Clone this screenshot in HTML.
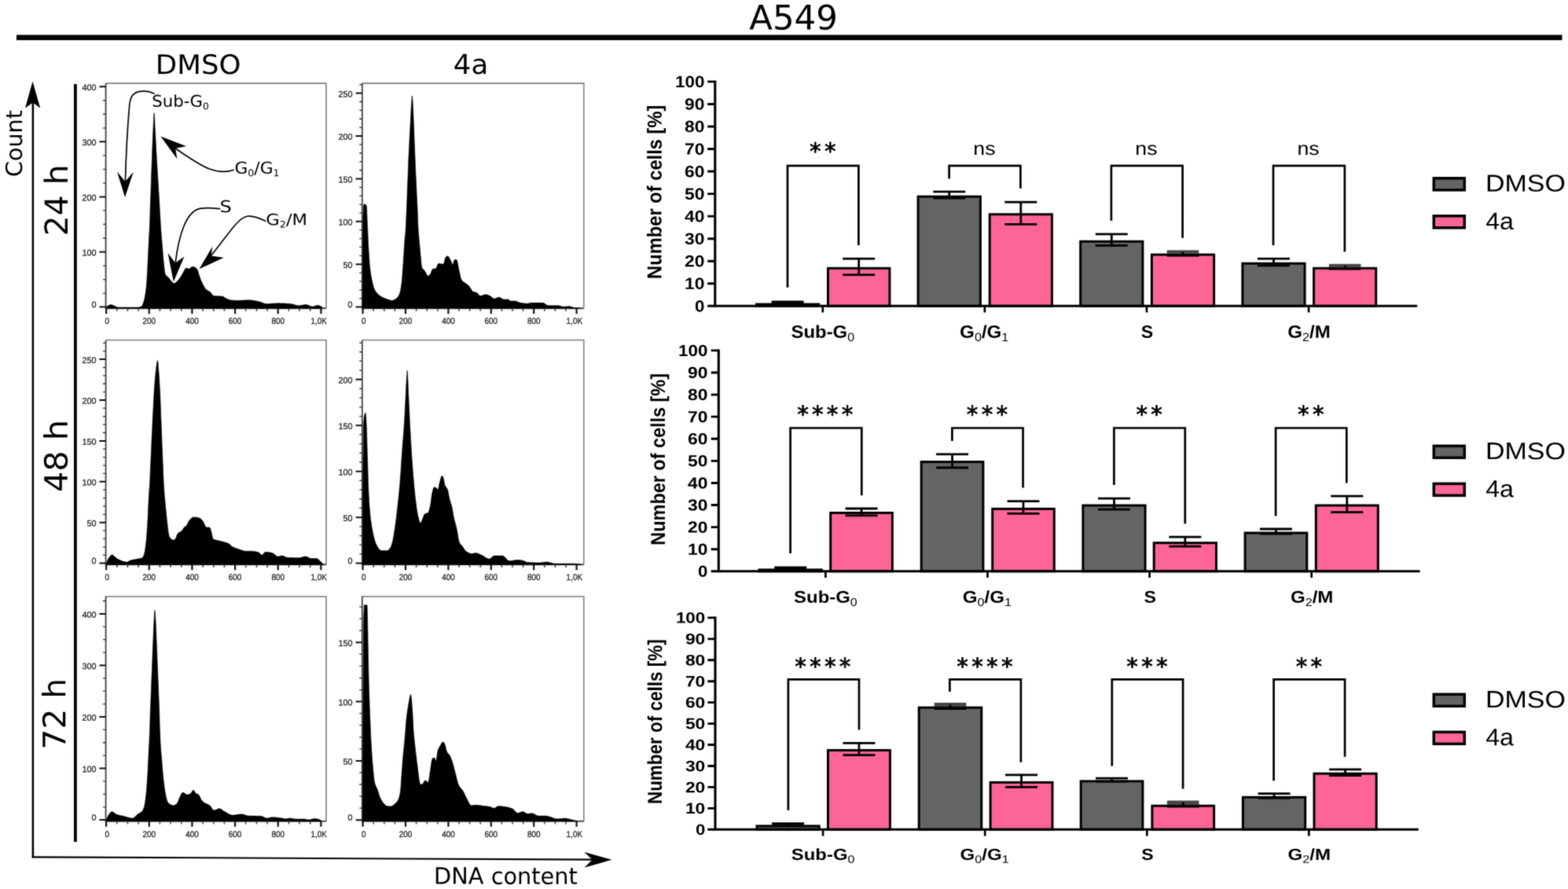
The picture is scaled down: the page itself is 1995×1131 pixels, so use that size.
<!DOCTYPE html>
<html lang="en">
<head>
<meta charset="utf-8">
<title>A549 cell cycle</title>
<style>
html,body{margin:0;padding:0;background:#fff;}
body{width:1995px;height:1131px;overflow:hidden;}
svg{display:block;}
text{font-kerning:none;white-space:pre;text-rendering:geometricPrecision;}
</style>
</head>
<body>
<svg width="1995" height="1131" viewBox="0 0 1995 1131">
<defs><filter id="soft" x="0" y="0" width="1995" height="1131" filterUnits="userSpaceOnUse" color-interpolation-filters="sRGB"><feConvolveMatrix order="3" kernelMatrix="1 4 1 4 16 4 1 4 1" divisor="36" edgeMode="duplicate" preserveAlpha="false"/></filter></defs>
<g filter="url(#soft)">
<rect width="1995" height="1131" fill="#fff"/>
<text transform="translate(953.16 37.39) rotate(0.03) scale(1.0053 1)" font-family="'DejaVu Sans','Liberation Sans',sans-serif" font-weight="normal" font-size="43.23" fill="#000">A549</text>
<rect x="21" y="44.4" width="1966.5" height="6.7" fill="#000"/>
<text transform="translate(197.81 93.92) rotate(0.03) scale(1.0431 1)" font-family="'DejaVu Sans','Liberation Sans',sans-serif" font-weight="normal" font-size="34.11" fill="#000">DMSO</text>
<text transform="translate(576.76 93.91) rotate(0.03) scale(1.0256 1)" font-family="'DejaVu Sans','Liberation Sans',sans-serif" font-weight="normal" font-size="34.72" fill="#000">4a</text>
<path d="M41.9 125 V1091.3" fill="none" stroke="#000" stroke-width="2.5"/>
<path d="M40.7 1090.3 L755 1093.6" fill="none" stroke="#000" stroke-width="2.15"/>
<path d="M41.5 103.5 L51.2 137.5 L41.8 130.5 L32 137.5 Z" fill="#000"/>
<path d="M778.5 1093.7 L743.5 1103.8 L753.5 1093.7 L743.5 1084 Z" fill="#000"/>
<text transform="translate(28.00 225.01) rotate(-89.97) scale(1 0.9979)" font-family="'DejaVu Sans','Liberation Sans',sans-serif" font-weight="normal" font-size="28.62" fill="#000">Count</text>
<text transform="translate(552.07 1124.59) rotate(0.03) scale(0.9913 1)" font-family="'DejaVu Sans','Liberation Sans',sans-serif" font-weight="normal" font-size="29.06" fill="#000">DNA content</text>
<rect x="94" y="107" width="3.8" height="964" fill="#000"/>
<text transform="translate(86.00 300.30) rotate(-89.97) scale(1 0.9835)" font-family="'DejaVu Sans','Liberation Sans',sans-serif" font-weight="normal" font-size="40.95" fill="#000">24 h</text>
<text transform="translate(85.73 626.12) rotate(-89.97) scale(1 0.9762)" font-family="'DejaVu Sans','Liberation Sans',sans-serif" font-weight="normal" font-size="41.43" fill="#000">48 h</text>
<text transform="translate(83.20 953.43) rotate(-89.97) scale(1 0.9781)" font-family="'DejaVu Sans','Liberation Sans',sans-serif" font-weight="normal" font-size="40.64" fill="#000">72 h</text>
<path d="M134.60 106.00 L415.00 106.00 L415.00 392.30" fill="none" stroke="#8c8c8c" stroke-width="1.8"/>
<path d="M134.60 106.00 L134.60 392.30 L415.00 392.30" fill="none" stroke="#4a4a4a" stroke-width="1.9"/>
<path d="M135.1 392.3 L135.1 391.0 L135.8 390.2 L136.6 389.6 L137.3 389.1 L137.8 388.8 L138.1 388.7 L138.8 388.3 L139.6 388.0 L140.3 387.7 L141.1 387.6 L141.3 387.6 L141.8 387.7 L142.6 387.9 L143.3 388.2 L144.1 388.5 L144.8 388.8 L144.8 388.9 L145.6 389.2 L146.3 389.5 L147.1 389.9 L147.8 390.3 L148.6 390.6 L149.3 390.9 L150.1 391.0 L150.1 391.0 L150.8 391.0 L151.6 391.0 L152.3 391.0 L153.1 391.0 L153.8 391.0 L154.6 391.0 L155.3 391.0 L156.1 391.1 L156.8 391.1 L157.6 391.1 L158.3 391.1 L159.1 391.1 L159.8 391.1 L160.6 391.1 L161.3 391.1 L162.1 391.1 L162.8 391.1 L163.6 391.1 L164.3 391.1 L165.1 391.1 L165.8 391.1 L166.6 391.1 L167.3 391.1 L168.1 391.1 L168.8 391.1 L169.6 391.1 L170.3 391.1 L171.1 391.1 L171.8 391.1 L172.6 391.1 L173.3 391.1 L174.1 391.1 L174.8 391.1 L174.9 391.1 L175.6 391.1 L176.3 391.0 L177.1 390.9 L177.8 390.7 L178.6 390.4 L179.3 390.1 L180.1 389.8 L180.2 389.7 L180.8 389.1 L181.6 387.6 L182.3 385.6 L183.1 383.2 L183.7 380.9 L183.8 380.5 L184.6 376.9 L185.3 372.1 L186.1 365.9 L186.4 363.2 L186.8 357.4 L187.6 344.2 L188.3 329.6 L188.3 329.4 L189.1 312.8 L189.6 303.1 L189.8 299.1 L190.1 295.0 L190.6 283.4 L191.3 260.5 L191.7 250.1 L192.1 238.9 L192.8 217.9 L193.5 201.1 L193.6 197.7 L194.3 178.0 L194.9 165.8 L195.1 160.8 L195.8 145.5 L196.1 143.8 L196.6 149.1 L197.3 165.6 L197.4 165.8 L198.1 179.3 L198.8 193.2 L199.3 201.1 L199.6 206.2 L200.3 218.6 L201.1 230.6 L201.8 242.6 L202.3 250.1 L202.6 255.0 L203.3 268.4 L204.1 281.7 L204.8 293.5 L205.0 295.0 L205.6 303.0 L206.3 311.5 L206.4 311.9 L207.1 321.0 L207.8 330.1 L208.2 333.1 L208.6 337.4 L209.3 344.2 L210.1 348.6 L210.3 349.0 L210.8 350.0 L211.6 350.8 L212.3 351.4 L213.1 352.0 L213.8 352.6 L213.8 352.6 L214.6 353.4 L215.3 354.4 L216.1 355.3 L216.8 356.3 L217.6 357.3 L218.3 358.2 L219.1 359.1 L219.8 359.7 L220.6 360.2 L221.3 360.5 L221.8 360.5 L222.1 360.5 L222.8 360.1 L223.6 359.5 L224.3 358.8 L224.4 358.8 L225.1 358.2 L225.8 357.4 L226.6 356.6 L227.3 355.7 L228.1 354.8 L228.8 353.8 L229.6 352.8 L229.7 352.6 L230.3 351.6 L231.1 350.3 L231.8 348.9 L232.6 347.5 L233.3 346.4 L233.3 346.2 L234.1 344.9 L234.8 343.4 L235.6 342.1 L236.3 341.2 L236.8 341.1 L237.1 341.1 L237.8 341.3 L238.6 341.5 L239.3 341.8 L240.1 342.0 L240.3 342.0 L240.8 341.9 L241.6 341.4 L242.3 340.8 L243.1 340.2 L243.8 339.6 L244.6 339.3 L244.8 339.3 L245.3 339.4 L246.1 339.5 L246.8 339.7 L247.6 339.9 L248.3 340.2 L248.3 340.2 L249.1 340.7 L249.8 341.4 L250.6 342.3 L250.9 342.9 L251.3 343.6 L252.1 345.8 L252.8 348.4 L253.6 350.8 L254.3 352.9 L255.1 355.1 L255.8 357.0 L256.2 357.9 L256.6 358.6 L257.4 360.2 L258.1 361.8 L258.9 363.3 L259.6 364.6 L260.4 365.9 L261.1 367.0 L261.9 367.9 L262.4 368.5 L262.6 368.6 L263.4 369.2 L264.1 369.6 L264.9 370.0 L265.6 370.4 L266.4 370.8 L266.9 371.1 L267.1 371.3 L267.9 372.1 L268.6 373.0 L269.4 374.0 L270.1 374.9 L270.9 375.7 L271.6 376.3 L272.2 376.5 L272.4 376.5 L273.1 376.6 L273.9 376.6 L274.6 376.6 L275.4 376.7 L276.1 376.7 L276.9 376.7 L277.6 376.7 L278.4 376.8 L279.1 376.8 L279.9 376.8 L280.6 376.8 L281.4 376.9 L282.1 376.9 L282.8 377.0 L282.9 377.0 L283.6 377.2 L284.4 377.6 L285.1 378.1 L285.9 378.6 L286.6 379.1 L287.4 379.6 L288.1 380.0 L288.1 380.0 L288.9 380.3 L289.6 380.6 L290.4 380.9 L291.1 381.2 L291.9 381.5 L292.6 381.6 L293.4 381.8 L293.4 381.8 L294.1 381.8 L294.9 381.9 L295.6 382.0 L296.4 382.1 L297.1 382.1 L297.9 382.2 L298.6 382.2 L299.4 382.2 L300.1 382.3 L300.9 382.3 L301.6 382.3 L302.2 382.3 L302.4 382.3 L303.1 382.3 L303.9 382.3 L304.6 382.3 L305.4 382.2 L306.1 382.2 L306.9 382.2 L307.6 382.1 L308.4 382.1 L309.1 382.1 L309.9 382.0 L310.6 382.0 L311.4 381.9 L312.1 381.9 L312.9 381.9 L313.6 381.8 L314.4 381.8 L315.1 381.8 L315.9 381.8 L316.4 381.8 L316.6 381.8 L317.4 381.8 L318.1 381.8 L318.9 381.9 L319.6 381.9 L320.4 382.0 L321.1 382.1 L321.9 382.2 L322.6 382.4 L323.4 382.5 L324.1 382.6 L324.9 382.8 L325.6 382.9 L326.4 383.1 L327.1 383.2 L327.9 383.4 L328.6 383.5 L328.8 383.5 L329.4 383.7 L330.1 383.9 L330.9 384.1 L331.6 384.4 L332.4 384.6 L333.1 384.9 L333.9 385.2 L334.6 385.5 L335.4 385.8 L336.1 386.0 L336.9 386.2 L337.6 386.4 L338.4 386.5 L339.1 386.5 L339.4 386.5 L339.9 386.5 L340.6 386.5 L341.4 386.5 L342.1 386.5 L342.9 386.4 L343.6 386.4 L344.4 386.3 L345.1 386.3 L345.9 386.2 L346.6 386.2 L347.4 386.1 L348.1 386.1 L348.9 386.0 L349.6 386.0 L350.4 385.9 L351.1 385.9 L351.9 385.9 L352.6 385.8 L353.4 385.8 L353.5 385.8 L354.1 385.8 L354.9 385.8 L355.6 385.8 L356.4 385.9 L357.1 385.9 L357.9 385.9 L358.6 385.9 L359.4 385.9 L360.1 386.0 L360.9 386.0 L361.6 386.0 L362.4 386.1 L363.1 386.1 L363.9 386.2 L364.6 386.2 L365.4 386.2 L366.1 386.3 L366.9 386.4 L367.6 386.4 L368.4 386.5 L369.1 386.5 L369.4 386.5 L369.9 386.6 L370.6 386.7 L371.4 386.8 L372.1 387.0 L372.9 387.2 L373.6 387.4 L374.4 387.7 L375.1 387.9 L375.9 388.1 L376.6 388.3 L377.4 388.5 L378.1 388.7 L378.9 388.8 L379.6 388.8 L380.1 388.8 L380.4 388.8 L381.1 388.8 L381.9 388.7 L382.6 388.6 L383.4 388.4 L384.1 388.3 L384.9 388.1 L385.6 388.0 L386.4 387.9 L387.1 387.7 L387.9 387.6 L388.6 387.6 L388.9 387.6 L389.4 387.6 L390.1 387.7 L390.9 387.9 L391.6 388.1 L392.4 388.4 L393.1 388.8 L393.9 389.1 L394.6 389.4 L395.4 389.6 L396.1 389.9 L396.9 390.0 L397.6 390.1 L397.8 390.1 L398.4 390.0 L399.1 389.9 L399.9 389.7 L400.6 389.4 L401.4 389.1 L402.1 388.8 L402.9 388.6 L403.6 388.5 L403.9 388.5 L404.4 388.5 L405.1 388.6 L405.9 388.8 L406.6 389.0 L407.4 389.3 L408.1 389.7 L408.9 390.1 L409.6 390.6 L410.1 391.0 L410.1 392.3 Z" fill="#000" stroke="#000" stroke-width="0.6" stroke-linejoin="round"/>
<path d="M135.10 392.30 v7 M189.76 392.30 v7 M244.42 392.30 v7 M299.08 392.30 v7 M353.74 392.30 v7 M408.40 392.30 v7" stroke="#1a1a1a" stroke-width="2.3" fill="none"/>
<path d="M148.76 392.30 v3.8 M162.43 392.30 v3.8 M176.09 392.30 v3.8 M203.42 392.30 v3.8 M217.09 392.30 v3.8 M230.75 392.30 v3.8 M258.08 392.30 v3.8 M271.75 392.30 v3.8 M285.41 392.30 v3.8 M312.74 392.30 v3.8 M326.41 392.30 v3.8 M340.07 392.30 v3.8 M367.40 392.30 v3.8 M381.07 392.30 v3.8 M394.73 392.30 v3.8" stroke="#333" stroke-width="1.4" fill="none"/>
<path d="M134.60 390.60 h-8.2 M134.60 320.50 h-8.2 M134.60 250.40 h-8.2 M134.60 180.30 h-8.2 M134.60 110.20 h-8.2" stroke="#111" stroke-width="2" fill="none"/>
<path d="M134.60 373.08 h-3.6 M134.60 355.55 h-3.6 M134.60 338.03 h-3.6 M134.60 302.98 h-3.6 M134.60 285.45 h-3.6 M134.60 267.93 h-3.6 M134.60 232.88 h-3.6 M134.60 215.35 h-3.6 M134.60 197.83 h-3.6 M134.60 162.78 h-3.6 M134.60 145.25 h-3.6 M134.60 127.73 h-3.6" stroke="#333" stroke-width="1.3" fill="none"/>
<g fill="#111" opacity="0.9" font-family="'Liberation Sans',sans-serif" font-size="11" stroke="#111" stroke-width="0.35"><text transform="translate(136.30 412.30) rotate(0.03) scale(0.9 1)" text-anchor="middle">0</text><text transform="translate(189.76 412.30) rotate(0.03) scale(0.9 1)" text-anchor="middle">200</text><text transform="translate(244.42 412.30) rotate(0.03) scale(0.9 1)" text-anchor="middle">400</text><text transform="translate(299.08 412.30) rotate(0.03) scale(0.9 1)" text-anchor="middle">600</text><text transform="translate(353.74 412.30) rotate(0.03) scale(0.9 1)" text-anchor="middle">800</text><text transform="translate(405.60 412.30) rotate(0.03) scale(0.9 1)" text-anchor="middle">1,0K</text><text transform="translate(122.40 391.20) rotate(0.03) scale(0.98 1)" text-anchor="end">0</text><text transform="translate(122.40 325.30) rotate(0.03) scale(0.98 1)" text-anchor="end">100</text><text transform="translate(122.40 255.20) rotate(0.03) scale(0.98 1)" text-anchor="end">200</text><text transform="translate(122.40 185.10) rotate(0.03) scale(0.98 1)" text-anchor="end">300</text><text transform="translate(122.40 115.00) rotate(0.03) scale(0.98 1)" text-anchor="end">400</text></g>
<path d="M460.80 106.00 L742.80 106.00 L742.80 392.30" fill="none" stroke="#8c8c8c" stroke-width="1.8"/>
<path d="M460.80 106.00 L460.80 392.30 L742.80 392.30" fill="none" stroke="#4a4a4a" stroke-width="1.9"/>
<path d="M461.2 392.3 L461.2 391.0 L461.7 285.4 L462.0 275.0 L462.6 260.6 L462.7 260.5 L463.5 259.9 L464.2 259.7 L464.2 259.7 L465.0 260.0 L465.7 261.0 L466.3 262.4 L466.5 263.2 L467.2 280.7 L467.4 285.4 L468.0 297.9 L468.6 311.9 L468.7 313.1 L469.5 326.0 L470.2 336.4 L470.4 338.4 L471.0 343.2 L471.7 348.7 L472.5 353.1 L473.1 356.1 L473.2 356.8 L474.0 360.1 L474.7 363.1 L475.5 365.7 L476.2 367.7 L476.6 368.5 L477.0 369.1 L477.7 370.4 L478.5 371.4 L479.2 372.4 L480.0 373.3 L480.7 374.1 L481.5 374.8 L482.2 375.4 L483.0 375.9 L483.7 376.5 L483.7 376.5 L484.5 377.0 L485.2 377.4 L486.0 377.9 L486.7 378.3 L487.5 378.6 L488.2 379.0 L489.0 379.3 L489.7 379.6 L490.5 379.9 L490.8 380.0 L491.2 380.2 L492.0 380.5 L492.7 380.8 L493.5 381.1 L494.2 381.3 L495.0 381.6 L495.7 381.8 L496.5 382.0 L497.2 382.2 L498.0 382.3 L498.7 382.3 L499.5 382.2 L500.2 382.1 L501.0 381.8 L501.7 381.4 L502.5 380.9 L503.2 380.4 L504.0 379.9 L504.7 379.3 L504.9 379.1 L505.5 378.6 L506.2 377.8 L507.0 376.7 L507.7 375.4 L508.4 373.8 L508.5 373.7 L509.2 371.2 L510.0 367.3 L510.7 362.5 L511.1 359.7 L511.5 356.3 L512.2 346.9 L513.0 335.8 L513.4 329.6 L513.7 324.8 L514.5 312.6 L515.1 303.1 L515.2 302.4 L516.0 296.0 L516.0 295.0 L516.7 282.9 L517.5 263.7 L518.2 245.3 L518.2 244.1 L519.0 225.0 L519.7 206.2 L519.9 201.1 L520.5 189.9 L521.2 175.2 L521.7 165.8 L522.0 160.7 L522.7 146.1 L523.1 139.2 L523.5 133.0 L524.2 122.3 L524.4 121.9 L525.0 127.6 L525.6 139.2 L525.7 141.5 L526.5 160.1 L527.0 174.6 L527.2 179.9 L528.0 199.2 L528.7 217.5 L528.8 218.8 L529.5 232.9 L530.2 247.4 L530.5 254.2 L531.0 264.1 L531.7 283.2 L532.3 295.0 L532.5 297.1 L533.2 304.9 L533.5 308.4 L534.0 313.0 L534.7 321.7 L535.0 324.3 L535.5 329.7 L536.2 337.4 L536.7 340.2 L537.0 340.7 L537.7 342.0 L538.5 342.8 L539.2 343.5 L540.0 344.2 L540.3 344.6 L540.7 345.3 L541.5 346.6 L542.2 348.1 L543.0 349.5 L543.7 350.6 L544.5 351.1 L544.7 351.2 L545.2 351.1 L546.0 350.5 L546.7 349.8 L547.3 349.0 L547.5 348.9 L548.2 347.3 L549.0 345.3 L549.7 343.4 L550.5 342.4 L550.5 342.3 L551.2 342.1 L552.0 342.0 L552.7 341.9 L553.5 341.9 L554.2 341.7 L554.4 341.6 L555.0 341.1 L555.7 339.5 L556.5 337.6 L557.2 335.9 L558.0 335.2 L558.7 335.3 L559.5 335.4 L560.2 335.5 L561.0 335.7 L561.7 335.8 L562.5 336.0 L563.2 336.1 L564.0 336.1 L564.1 336.1 L564.7 335.3 L565.5 332.5 L566.2 329.3 L566.8 327.8 L567.0 327.6 L567.7 326.7 L568.5 326.1 L569.2 325.7 L569.5 325.7 L570.0 325.9 L570.7 326.6 L571.5 327.8 L572.2 329.1 L573.0 330.4 L573.0 330.5 L573.7 332.1 L574.5 334.1 L575.2 335.9 L576.0 336.7 L576.0 336.7 L576.7 335.2 L577.5 332.3 L578.2 330.5 L578.3 330.5 L579.0 330.5 L579.7 330.5 L580.5 330.5 L581.0 330.5 L581.2 330.7 L582.0 333.2 L582.7 337.3 L583.5 341.4 L583.6 342.0 L584.2 344.7 L585.0 348.3 L585.7 351.8 L586.5 354.6 L587.1 356.1 L587.2 356.2 L588.0 357.2 L588.7 357.9 L589.5 358.5 L590.2 359.1 L591.0 359.5 L591.7 360.0 L592.4 360.5 L592.5 360.6 L593.2 361.1 L594.0 361.6 L594.7 362.2 L595.5 362.7 L596.0 363.2 L596.2 363.4 L597.0 364.3 L597.7 365.4 L598.5 366.6 L599.2 367.8 L600.0 368.9 L600.7 369.9 L601.5 370.7 L602.2 371.1 L602.2 371.2 L603.0 371.4 L603.7 371.6 L604.5 371.8 L605.2 371.9 L606.0 372.2 L606.6 372.4 L606.7 372.4 L607.5 373.0 L608.2 373.9 L609.0 374.9 L609.7 375.7 L610.5 376.3 L611.0 376.5 L611.2 376.5 L612.0 376.4 L612.7 376.2 L613.5 376.0 L614.2 375.7 L615.0 375.4 L615.7 375.2 L616.5 374.9 L617.2 374.8 L618.0 374.7 L618.1 374.7 L618.7 374.7 L619.5 374.9 L620.2 375.1 L621.0 375.4 L621.7 375.7 L622.5 376.0 L623.2 376.4 L623.4 376.5 L624.0 376.8 L624.7 377.3 L625.5 378.0 L626.2 378.7 L627.0 379.3 L627.7 379.7 L628.5 380.0 L628.7 380.0 L629.2 380.0 L630.0 379.8 L630.7 379.6 L631.5 379.3 L632.2 378.9 L633.0 378.6 L633.7 378.4 L634.5 378.2 L634.9 378.2 L635.2 378.2 L636.0 378.4 L636.7 378.8 L637.5 379.2 L638.2 379.7 L639.0 380.2 L639.7 380.6 L640.5 380.8 L641.1 380.9 L641.2 380.9 L642.0 380.9 L642.7 380.9 L643.5 380.9 L644.2 380.9 L645.0 380.9 L645.7 380.9 L646.4 380.9 L646.5 380.9 L647.2 381.2 L648.0 381.8 L648.7 382.4 L649.5 382.9 L649.9 383.0 L650.2 383.0 L651.0 383.0 L651.7 383.0 L652.5 383.0 L653.2 383.0 L654.0 383.0 L654.7 383.0 L655.2 383.0 L655.5 383.0 L656.2 383.1 L657.0 383.3 L657.7 383.6 L658.5 383.9 L659.2 384.2 L660.0 384.5 L660.7 384.9 L661.5 385.1 L662.2 385.3 L662.3 385.3 L663.0 385.4 L663.7 385.5 L664.5 385.6 L665.2 385.7 L666.0 385.8 L666.7 385.9 L667.5 386.0 L668.2 386.1 L669.0 386.1 L669.7 386.2 L670.5 386.2 L671.1 386.2 L671.2 386.2 L672.0 386.1 L672.7 386.0 L673.5 385.8 L674.2 385.6 L675.0 385.5 L675.7 385.4 L676.5 385.3 L677.2 385.3 L678.0 385.3 L678.7 385.3 L679.5 385.3 L680.2 385.3 L681.0 385.3 L681.7 385.3 L682.5 385.3 L683.2 385.3 L684.0 385.3 L684.7 385.3 L685.5 385.3 L686.2 385.3 L687.0 385.3 L687.7 385.3 L688.5 385.3 L689.2 385.3 L690.0 385.3 L690.6 385.3 L690.7 385.3 L691.5 385.4 L692.2 385.8 L693.0 386.2 L693.7 386.8 L694.5 387.3 L695.2 387.9 L696.0 388.3 L696.7 388.7 L697.5 388.8 L697.7 388.8 L698.2 388.8 L699.0 388.8 L699.7 388.8 L700.5 388.8 L701.2 388.8 L702.0 388.8 L702.7 388.8 L703.5 388.8 L704.2 388.8 L705.0 388.8 L705.7 388.8 L706.5 388.8 L707.2 388.8 L708.0 388.8 L708.7 388.8 L709.5 388.8 L710.1 388.8 L710.2 388.8 L711.0 388.9 L711.7 389.0 L712.5 389.2 L713.2 389.4 L714.0 389.6 L714.7 389.9 L715.5 390.1 L716.2 390.2 L717.0 390.2 L717.1 390.2 L717.7 390.2 L718.5 390.2 L719.2 390.1 L720.0 390.1 L720.7 390.0 L721.5 389.9 L722.2 389.8 L723.0 389.8 L723.7 389.7 L724.2 389.7 L724.5 389.7 L725.2 389.8 L726.0 390.0 L726.7 390.2 L727.5 390.4 L728.2 390.7 L729.0 390.9 L729.7 391.2 L730.5 391.4 L731.2 391.5 L731.3 391.5 L732.0 391.6 L732.7 391.6 L733.5 391.7 L734.2 391.7 L735.0 391.8 L735.7 391.8 L736.5 391.8 L737.2 391.8 L738.0 391.9 L738.4 391.9 L738.4 392.3 Z" fill="#000" stroke="#000" stroke-width="0.6" stroke-linejoin="round"/>
<path d="M461.60 392.30 v7 M516.00 392.30 v7 M570.40 392.30 v7 M624.80 392.30 v7 M679.20 392.30 v7 M733.60 392.30 v7" stroke="#1a1a1a" stroke-width="2.3" fill="none"/>
<path d="M475.20 392.30 v3.8 M488.80 392.30 v3.8 M502.40 392.30 v3.8 M529.60 392.30 v3.8 M543.20 392.30 v3.8 M556.80 392.30 v3.8 M584.00 392.30 v3.8 M597.60 392.30 v3.8 M611.20 392.30 v3.8 M638.40 392.30 v3.8 M652.00 392.30 v3.8 M665.60 392.30 v3.8 M692.80 392.30 v3.8 M706.40 392.30 v3.8 M720.00 392.30 v3.8" stroke="#333" stroke-width="1.4" fill="none"/>
<path d="M460.80 390.60 h-8.2 M460.80 336.20 h-8.2 M460.80 281.80 h-8.2 M460.80 227.40 h-8.2 M460.80 173.00 h-8.2 M460.80 118.60 h-8.2" stroke="#111" stroke-width="2" fill="none"/>
<path d="M460.80 379.72 h-3.6 M460.80 368.84 h-3.6 M460.80 357.96 h-3.6 M460.80 347.08 h-3.6 M460.80 325.32 h-3.6 M460.80 314.44 h-3.6 M460.80 303.56 h-3.6 M460.80 292.68 h-3.6 M460.80 270.92 h-3.6 M460.80 260.04 h-3.6 M460.80 249.16 h-3.6 M460.80 238.28 h-3.6 M460.80 216.52 h-3.6 M460.80 205.64 h-3.6 M460.80 194.76 h-3.6 M460.80 183.88 h-3.6 M460.80 162.12 h-3.6 M460.80 151.24 h-3.6 M460.80 140.36 h-3.6 M460.80 129.48 h-3.6 M460.80 107.72 h-3.6" stroke="#333" stroke-width="1.3" fill="none"/>
<g fill="#111" opacity="0.9" font-family="'Liberation Sans',sans-serif" font-size="11" stroke="#111" stroke-width="0.35"><text transform="translate(462.80 412.30) rotate(0.03) scale(0.9 1)" text-anchor="middle">0</text><text transform="translate(516.00 412.30) rotate(0.03) scale(0.9 1)" text-anchor="middle">200</text><text transform="translate(570.40 412.30) rotate(0.03) scale(0.9 1)" text-anchor="middle">400</text><text transform="translate(624.80 412.30) rotate(0.03) scale(0.9 1)" text-anchor="middle">600</text><text transform="translate(679.20 412.30) rotate(0.03) scale(0.9 1)" text-anchor="middle">800</text><text transform="translate(730.80 412.30) rotate(0.03) scale(0.9 1)" text-anchor="middle">1,0K</text><text transform="translate(448.60 391.20) rotate(0.03) scale(0.98 1)" text-anchor="end">0</text><text transform="translate(448.60 341.00) rotate(0.03) scale(0.98 1)" text-anchor="end">50</text><text transform="translate(448.60 286.60) rotate(0.03) scale(0.98 1)" text-anchor="end">100</text><text transform="translate(448.60 232.20) rotate(0.03) scale(0.98 1)" text-anchor="end">150</text><text transform="translate(448.60 177.80) rotate(0.03) scale(0.98 1)" text-anchor="end">200</text><text transform="translate(448.60 123.40) rotate(0.03) scale(0.98 1)" text-anchor="end">250</text></g>
<path d="M134.60 432.70 L415.00 432.70 L415.00 718.30" fill="none" stroke="#8c8c8c" stroke-width="1.8"/>
<path d="M134.60 432.70 L134.60 718.30 L415.00 718.30" fill="none" stroke="#4a4a4a" stroke-width="1.9"/>
<path d="M135.1 718.3 L135.1 717.1 L135.8 715.2 L136.6 713.5 L137.3 711.9 L138.1 710.5 L138.6 709.7 L138.8 709.4 L139.6 708.4 L140.3 707.4 L141.1 706.6 L141.8 706.0 L142.5 705.8 L142.6 705.8 L143.3 706.0 L144.1 706.6 L144.8 707.2 L145.6 708.0 L146.3 708.6 L146.6 708.8 L147.1 709.2 L147.8 709.8 L148.6 710.3 L149.3 710.9 L150.1 711.4 L150.8 711.8 L151.0 711.9 L151.6 712.1 L152.3 712.4 L153.1 712.8 L153.8 713.1 L154.6 713.4 L155.3 713.7 L156.1 714.0 L156.8 714.2 L157.6 714.4 L158.3 714.6 L159.1 714.8 L159.8 714.9 L160.6 715.0 L161.3 715.0 L161.6 715.0 L162.1 715.0 L162.8 714.7 L163.6 714.3 L164.3 713.8 L165.1 713.3 L165.8 713.0 L166.1 712.9 L166.6 712.8 L167.3 712.6 L168.1 712.4 L168.8 712.2 L169.6 712.1 L170.3 712.0 L171.1 711.8 L171.8 711.7 L172.6 711.6 L173.3 711.4 L174.1 711.3 L174.8 711.1 L174.9 711.1 L175.6 711.0 L176.3 710.9 L177.1 710.8 L177.8 710.6 L178.6 710.5 L179.3 710.3 L180.1 710.1 L180.8 709.8 L181.1 709.7 L181.6 709.3 L182.3 708.1 L183.1 706.3 L183.7 704.4 L183.8 704.0 L184.6 700.3 L185.3 694.7 L186.1 687.8 L186.4 685.0 L186.8 679.5 L187.6 668.1 L188.2 658.4 L188.3 654.8 L189.1 637.6 L189.6 628.4 L189.8 625.0 L190.3 620.0 L190.6 614.8 L191.3 599.0 L192.1 581.1 L192.6 570.3 L192.8 564.6 L193.6 548.6 L194.3 533.0 L194.7 526.1 L195.1 518.3 L195.8 503.8 L196.6 491.4 L196.7 490.8 L197.3 481.9 L198.1 474.0 L198.4 471.3 L198.8 467.8 L199.6 462.0 L200.3 458.7 L200.5 458.6 L201.1 461.9 L201.8 471.6 L202.0 473.1 L202.6 482.3 L203.3 495.6 L203.6 499.6 L204.1 512.4 L204.8 532.2 L205.0 535.0 L205.6 551.1 L206.3 569.9 L206.7 579.2 L207.1 588.4 L207.8 607.1 L208.5 620.0 L208.6 621.6 L209.3 631.1 L210.1 639.0 L210.3 640.8 L210.8 646.8 L211.6 654.2 L212.0 658.4 L212.3 661.4 L213.1 668.6 L213.8 674.4 L213.8 674.6 L214.6 679.8 L215.2 682.3 L215.3 682.5 L216.1 683.7 L216.8 684.7 L217.6 685.5 L218.3 686.2 L219.1 686.6 L219.8 686.9 L220.6 687.1 L220.9 687.1 L221.3 687.0 L222.1 686.5 L222.8 685.8 L223.5 685.0 L223.6 684.9 L224.3 683.3 L225.1 681.1 L225.8 679.3 L226.2 678.8 L226.6 678.4 L227.3 677.8 L228.1 677.3 L228.8 676.9 L229.6 676.5 L230.3 676.1 L231.1 675.6 L231.5 675.2 L231.8 674.8 L232.6 673.6 L233.3 672.3 L234.1 671.2 L234.2 671.2 L234.8 670.5 L235.6 669.9 L236.3 669.4 L237.1 668.8 L237.7 668.2 L237.8 667.9 L238.6 666.5 L239.3 664.7 L240.1 663.2 L240.3 662.9 L240.8 662.2 L241.6 661.4 L242.3 660.5 L243.1 659.8 L243.8 659.1 L244.6 658.5 L245.3 658.1 L246.1 657.9 L246.5 657.9 L246.8 657.9 L247.6 657.9 L248.3 658.0 L249.1 658.1 L249.8 658.2 L250.6 658.3 L251.3 658.4 L252.1 658.6 L252.8 658.8 L253.6 659.0 L254.3 659.3 L255.1 659.8 L255.8 660.4 L256.6 661.2 L257.4 662.1 L258.0 662.9 L258.1 663.0 L258.9 664.2 L259.6 665.9 L260.4 667.7 L261.1 669.3 L261.9 670.4 L262.4 670.8 L262.6 670.8 L263.4 670.9 L264.1 671.0 L264.9 671.0 L265.6 671.0 L266.4 671.1 L266.9 671.2 L267.1 671.4 L267.9 673.3 L268.6 676.0 L268.6 676.1 L269.4 679.0 L270.1 682.5 L270.9 685.1 L271.3 685.9 L271.6 686.0 L272.4 686.4 L273.1 686.6 L273.9 686.9 L274.6 687.0 L275.4 687.2 L276.1 687.3 L276.9 687.5 L277.5 687.6 L277.6 687.6 L278.4 687.9 L279.1 688.0 L279.9 688.2 L280.6 688.4 L281.4 688.6 L282.1 688.8 L282.9 689.0 L283.6 689.2 L284.4 689.4 L285.1 689.6 L285.4 689.7 L285.9 689.9 L286.6 690.1 L287.4 690.3 L288.1 690.6 L288.9 690.8 L289.6 691.1 L290.4 691.4 L291.1 691.8 L291.6 692.0 L291.9 692.2 L292.6 692.8 L293.4 693.6 L294.1 694.4 L294.9 695.0 L295.2 695.2 L295.6 695.5 L296.4 695.9 L297.1 696.2 L297.9 696.6 L298.6 696.9 L299.4 697.2 L300.1 697.5 L300.9 697.7 L301.6 698.0 L302.4 698.2 L303.1 698.5 L303.9 698.7 L304.0 698.8 L304.6 699.0 L305.4 699.2 L306.1 699.5 L306.9 699.8 L307.6 700.1 L308.4 700.3 L309.1 700.6 L309.9 700.8 L310.6 701.0 L311.4 701.1 L312.1 701.2 L312.9 701.2 L313.6 701.2 L314.4 701.2 L315.1 701.2 L315.9 701.2 L316.6 701.2 L317.4 701.2 L318.1 701.2 L318.9 701.2 L319.6 701.2 L319.9 701.2 L320.4 701.2 L321.1 701.3 L321.9 701.3 L322.6 701.4 L323.4 701.5 L324.1 701.6 L324.9 701.7 L325.6 701.9 L326.4 702.0 L327.1 702.2 L327.9 702.4 L328.6 702.6 L328.8 702.6 L329.4 702.9 L330.1 703.6 L330.9 704.4 L331.6 705.2 L332.4 705.9 L333.1 706.2 L333.2 706.2 L333.9 706.0 L334.6 705.2 L335.4 704.3 L336.1 703.4 L336.9 702.6 L337.6 702.3 L337.6 702.3 L338.4 702.3 L339.1 702.3 L339.9 702.4 L340.6 702.5 L341.4 702.6 L342.1 702.7 L342.9 702.8 L343.6 702.9 L344.4 703.1 L345.1 703.2 L345.9 703.4 L346.5 703.5 L346.6 703.6 L347.4 703.9 L348.1 704.4 L348.9 705.0 L349.6 705.6 L350.4 706.3 L351.1 706.9 L351.9 707.4 L352.6 707.8 L353.4 708.0 L353.5 708.0 L354.1 707.9 L354.9 707.8 L355.6 707.7 L356.4 707.5 L357.1 707.3 L357.9 707.1 L358.6 707.1 L358.8 707.1 L359.4 707.1 L360.1 707.2 L360.9 707.5 L361.6 707.8 L362.4 708.2 L363.1 708.5 L363.9 708.9 L364.6 709.1 L365.4 709.3 L365.9 709.4 L366.1 709.4 L366.9 709.4 L367.6 709.5 L368.4 709.5 L369.1 709.5 L369.9 709.5 L370.6 709.6 L371.4 709.6 L372.1 709.6 L372.9 709.6 L373.6 709.6 L374.4 709.7 L375.1 709.7 L375.9 709.7 L376.6 709.7 L377.4 709.7 L378.1 709.7 L378.9 709.7 L379.6 709.7 L380.1 709.7 L380.4 709.7 L381.1 709.6 L381.9 709.5 L382.6 709.4 L383.4 709.2 L384.1 709.0 L384.9 708.7 L385.6 708.5 L386.4 708.3 L387.1 708.1 L387.9 708.0 L388.6 708.0 L388.9 708.0 L389.4 708.0 L390.1 708.2 L390.9 708.5 L391.6 708.8 L392.4 709.2 L393.1 709.6 L393.9 710.0 L394.6 710.4 L395.4 710.5 L396.0 710.6 L396.1 710.6 L396.9 710.6 L397.6 710.6 L398.4 710.6 L399.1 710.6 L399.9 710.6 L400.6 710.6 L401.4 710.6 L402.1 710.6 L402.9 710.6 L403.1 710.6 L403.6 710.7 L404.4 711.1 L405.1 711.7 L405.9 712.4 L406.6 713.2 L407.4 714.1 L408.1 714.8 L408.4 715.0 L408.9 715.4 L409.6 716.0 L410.4 716.6 L411.0 717.1 L411.0 718.3 Z" fill="#000" stroke="#000" stroke-width="0.6" stroke-linejoin="round"/>
<path d="M135.10 718.30 v7 M189.76 718.30 v7 M244.42 718.30 v7 M299.08 718.30 v7 M353.74 718.30 v7 M408.40 718.30 v7" stroke="#1a1a1a" stroke-width="2.3" fill="none"/>
<path d="M148.76 718.30 v3.8 M162.43 718.30 v3.8 M176.09 718.30 v3.8 M203.42 718.30 v3.8 M217.09 718.30 v3.8 M230.75 718.30 v3.8 M258.08 718.30 v3.8 M271.75 718.30 v3.8 M285.41 718.30 v3.8 M312.74 718.30 v3.8 M326.41 718.30 v3.8 M340.07 718.30 v3.8 M367.40 718.30 v3.8 M381.07 718.30 v3.8 M394.73 718.30 v3.8" stroke="#333" stroke-width="1.4" fill="none"/>
<path d="M134.60 716.60 h-8.2 M134.60 664.70 h-8.2 M134.60 612.80 h-8.2 M134.60 560.90 h-8.2 M134.60 509.00 h-8.2 M134.60 457.10 h-8.2" stroke="#111" stroke-width="2" fill="none"/>
<path d="M134.60 706.22 h-3.6 M134.60 695.84 h-3.6 M134.60 685.46 h-3.6 M134.60 675.08 h-3.6 M134.60 654.32 h-3.6 M134.60 643.94 h-3.6 M134.60 633.56 h-3.6 M134.60 623.18 h-3.6 M134.60 602.42 h-3.6 M134.60 592.04 h-3.6 M134.60 581.66 h-3.6 M134.60 571.28 h-3.6 M134.60 550.52 h-3.6 M134.60 540.14 h-3.6 M134.60 529.76 h-3.6 M134.60 519.38 h-3.6 M134.60 498.62 h-3.6 M134.60 488.24 h-3.6 M134.60 477.86 h-3.6 M134.60 467.48 h-3.6 M134.60 446.72 h-3.6 M134.60 436.34 h-3.6" stroke="#333" stroke-width="1.3" fill="none"/>
<g fill="#111" opacity="0.9" font-family="'Liberation Sans',sans-serif" font-size="11" stroke="#111" stroke-width="0.35"><text transform="translate(136.30 738.30) rotate(0.03) scale(0.9 1)" text-anchor="middle">0</text><text transform="translate(189.76 738.30) rotate(0.03) scale(0.9 1)" text-anchor="middle">200</text><text transform="translate(244.42 738.30) rotate(0.03) scale(0.9 1)" text-anchor="middle">400</text><text transform="translate(299.08 738.30) rotate(0.03) scale(0.9 1)" text-anchor="middle">600</text><text transform="translate(353.74 738.30) rotate(0.03) scale(0.9 1)" text-anchor="middle">800</text><text transform="translate(405.60 738.30) rotate(0.03) scale(0.9 1)" text-anchor="middle">1,0K</text><text transform="translate(122.40 717.20) rotate(0.03) scale(0.98 1)" text-anchor="end">0</text><text transform="translate(122.40 669.50) rotate(0.03) scale(0.98 1)" text-anchor="end">50</text><text transform="translate(122.40 617.60) rotate(0.03) scale(0.98 1)" text-anchor="end">100</text><text transform="translate(122.40 565.70) rotate(0.03) scale(0.98 1)" text-anchor="end">150</text><text transform="translate(122.40 513.80) rotate(0.03) scale(0.98 1)" text-anchor="end">200</text><text transform="translate(122.40 461.90) rotate(0.03) scale(0.98 1)" text-anchor="end">250</text></g>
<path d="M460.80 432.70 L742.80 432.70 L742.80 718.30" fill="none" stroke="#8c8c8c" stroke-width="1.8"/>
<path d="M460.80 432.70 L460.80 718.30 L742.80 718.30" fill="none" stroke="#4a4a4a" stroke-width="1.9"/>
<path d="M461.2 718.3 L461.2 717.1 L461.7 620.0 L462.0 589.6 L462.4 543.8 L462.7 537.4 L463.3 529.7 L463.5 529.1 L464.2 526.4 L465.0 525.3 L465.1 525.2 L465.7 531.1 L466.3 543.8 L466.5 546.6 L467.2 572.5 L467.4 579.2 L468.0 598.9 L468.6 620.0 L468.7 621.7 L469.5 636.3 L469.5 637.2 L470.2 646.9 L471.0 655.4 L471.3 658.4 L471.7 661.8 L472.5 667.1 L473.2 671.6 L474.0 675.6 L474.7 679.1 L474.8 679.7 L475.5 682.4 L476.2 685.5 L477.0 688.2 L477.7 690.5 L478.4 692.0 L478.5 692.2 L479.2 693.6 L480.0 694.9 L480.7 696.2 L481.5 697.3 L482.2 698.4 L483.0 699.2 L483.7 699.9 L484.5 700.3 L485.2 700.5 L485.4 700.5 L486.0 700.5 L486.7 700.5 L487.5 700.5 L488.2 700.5 L489.0 700.5 L489.7 700.5 L490.5 700.5 L491.2 700.5 L492.0 700.5 L492.5 700.5 L492.7 700.5 L493.5 700.3 L494.2 699.8 L495.0 699.1 L495.7 698.2 L496.5 697.2 L496.9 696.5 L497.2 696.0 L498.0 694.2 L498.7 691.8 L499.5 689.0 L499.6 688.5 L500.2 685.7 L501.0 681.7 L501.7 677.0 L502.5 672.0 L503.1 667.3 L503.2 666.7 L504.0 661.0 L504.7 654.8 L505.5 648.1 L506.2 641.3 L506.7 637.2 L507.0 634.5 L507.7 627.5 L508.4 620.0 L508.5 619.7 L509.2 610.4 L510.0 599.8 L510.7 588.6 L511.5 577.5 L512.0 570.3 L512.2 567.1 L513.0 557.7 L513.7 548.2 L514.5 537.5 L514.6 535.0 L515.2 523.9 L516.0 507.9 L516.4 499.6 L516.7 493.3 L517.5 478.1 L518.2 471.3 L518.2 471.4 L519.0 484.1 L519.6 499.6 L519.7 502.3 L520.5 518.3 L521.2 534.2 L521.7 543.8 L522.0 548.6 L522.7 562.0 L523.5 574.6 L524.2 586.0 L524.4 588.0 L525.0 596.3 L525.7 605.6 L526.5 614.2 L527.0 620.0 L527.2 622.2 L528.0 629.5 L528.2 631.9 L528.7 635.9 L529.5 642.1 L530.2 647.8 L531.0 652.6 L531.4 654.9 L531.7 656.1 L532.5 659.3 L533.2 662.1 L534.0 664.3 L534.7 665.4 L535.0 665.5 L535.5 665.2 L536.2 663.8 L537.0 661.8 L537.6 660.2 L537.7 660.0 L538.5 658.0 L539.2 655.9 L540.0 654.4 L540.3 654.0 L540.7 653.7 L541.5 653.4 L542.2 653.2 L543.0 653.0 L543.7 652.8 L544.5 652.4 L544.7 652.2 L545.2 651.5 L546.0 649.6 L546.7 646.8 L547.3 644.3 L547.5 643.7 L548.2 639.0 L549.0 633.1 L549.7 628.0 L550.0 626.6 L550.5 624.7 L551.2 621.9 L552.0 620.1 L552.3 619.9 L552.7 619.9 L553.5 620.0 L554.2 620.2 L554.8 620.4 L555.0 620.5 L555.7 621.5 L556.5 622.6 L557.1 623.1 L557.2 623.0 L558.0 620.9 L558.7 617.1 L559.5 613.4 L559.7 612.5 L560.2 610.8 L561.0 608.1 L561.7 606.1 L562.4 605.4 L562.5 605.4 L563.2 606.1 L564.0 607.6 L564.1 608.0 L564.7 610.4 L565.5 615.0 L565.9 616.9 L566.2 617.6 L567.0 619.0 L567.7 620.1 L568.5 621.1 L569.2 622.5 L569.5 623.1 L570.0 624.8 L570.7 628.5 L571.5 632.5 L572.1 635.4 L572.2 635.9 L573.0 638.4 L573.7 640.6 L574.5 643.1 L574.8 644.3 L575.2 646.3 L576.0 650.5 L576.7 654.8 L577.4 658.4 L577.5 658.7 L578.2 661.9 L579.0 664.8 L579.7 667.6 L580.5 670.5 L581.0 672.6 L581.2 673.8 L582.0 678.0 L582.7 682.5 L583.5 686.6 L584.2 689.6 L584.5 690.3 L585.0 691.1 L585.7 692.2 L586.5 693.0 L587.2 693.8 L588.0 694.6 L588.0 694.7 L588.7 695.6 L589.5 696.8 L590.2 698.0 L591.0 699.1 L591.7 700.2 L592.5 701.0 L593.2 701.7 L593.3 701.8 L594.0 702.1 L594.7 702.6 L595.5 703.0 L596.2 703.3 L597.0 703.7 L597.7 703.9 L598.5 704.2 L599.2 704.3 L600.0 704.4 L600.4 704.4 L600.7 704.4 L601.5 704.3 L602.2 704.1 L603.0 703.9 L603.7 703.7 L604.5 703.5 L604.8 703.5 L605.2 703.5 L606.0 703.6 L606.7 703.8 L607.5 704.0 L608.2 704.2 L609.0 704.5 L609.7 704.8 L610.5 705.2 L611.2 705.5 L612.0 705.9 L612.7 706.2 L612.8 706.2 L613.5 706.5 L614.2 706.9 L615.0 707.4 L615.7 707.8 L616.5 708.4 L617.2 708.9 L618.0 709.4 L618.7 709.8 L619.5 710.2 L620.2 710.6 L621.0 710.9 L621.7 711.1 L622.5 711.1 L622.5 711.1 L623.2 711.0 L624.0 710.6 L624.7 710.0 L625.5 709.2 L626.2 708.5 L627.0 707.9 L627.7 707.4 L628.5 707.1 L628.7 707.1 L629.2 707.1 L630.0 707.1 L630.7 707.1 L631.5 707.1 L632.2 707.1 L633.0 707.1 L633.7 707.1 L634.5 707.1 L635.2 707.1 L636.0 707.1 L636.7 707.1 L637.5 707.1 L638.2 707.1 L639.0 707.1 L639.3 707.1 L639.7 707.1 L640.5 707.4 L641.2 707.9 L642.0 708.5 L642.7 709.2 L643.5 710.0 L644.2 710.9 L645.0 711.7 L645.7 712.4 L646.5 713.0 L647.2 713.4 L648.0 713.6 L648.2 713.6 L648.7 713.6 L649.5 713.6 L650.2 713.5 L651.0 713.4 L651.7 713.3 L652.5 713.2 L653.2 713.0 L654.0 712.9 L654.7 712.8 L655.5 712.7 L656.2 712.6 L657.0 712.5 L657.7 712.4 L658.5 712.4 L658.8 712.4 L659.2 712.4 L660.0 712.4 L660.7 712.5 L661.5 712.5 L662.2 712.6 L663.0 712.7 L663.7 712.9 L664.1 712.9 L664.5 713.0 L665.2 713.2 L666.0 713.5 L666.7 713.8 L667.5 714.1 L668.2 714.5 L669.0 714.8 L669.7 715.1 L670.5 715.3 L671.1 715.4 L671.2 715.4 L672.0 715.4 L672.7 715.5 L673.5 715.5 L674.2 715.6 L675.0 715.6 L675.7 715.7 L676.5 715.7 L677.2 715.7 L678.0 715.8 L678.7 715.8 L679.5 715.8 L680.2 715.8 L681.0 715.9 L681.7 715.9 L682.5 715.9 L683.2 715.9 L684.0 715.9 L684.7 715.9 L685.3 715.9 L685.5 715.9 L686.2 715.9 L687.0 715.9 L687.7 715.8 L688.5 715.7 L689.2 715.6 L690.0 715.5 L690.7 715.5 L691.5 715.4 L692.2 715.3 L693.0 715.2 L693.7 715.1 L694.5 715.1 L695.2 715.0 L695.9 715.0 L696.0 715.0 L696.7 715.1 L697.5 715.1 L698.2 715.3 L699.0 715.5 L699.7 715.6 L700.5 715.9 L701.2 716.1 L702.0 716.3 L702.7 716.5 L703.5 716.7 L704.2 716.9 L705.0 717.0 L705.7 717.1 L706.5 717.1 L706.5 717.1 L707.2 717.1 L708.0 717.1 L708.7 717.1 L709.5 717.1 L710.2 717.1 L711.0 717.1 L711.7 717.1 L712.5 717.1 L713.2 717.1 L714.0 717.1 L714.7 717.1 L715.5 717.1 L716.2 717.1 L717.0 717.1 L717.7 717.1 L718.5 717.1 L719.2 717.1 L720.0 717.1 L720.7 717.1 L721.5 717.1 L722.2 717.1 L723.0 717.1 L723.7 717.1 L724.5 717.1 L725.2 717.1 L726.0 717.1 L726.7 717.1 L727.5 717.1 L727.8 717.1 L728.2 717.1 L729.0 717.2 L729.7 717.2 L730.5 717.2 L731.2 717.2 L732.0 717.3 L732.7 717.3 L733.5 717.4 L734.2 717.4 L735.0 717.5 L735.7 717.5 L736.5 717.5 L737.2 717.6 L738.0 717.6 L738.4 717.7 L738.4 718.3 Z" fill="#000" stroke="#000" stroke-width="0.6" stroke-linejoin="round"/>
<path d="M461.60 718.30 v7 M516.00 718.30 v7 M570.40 718.30 v7 M624.80 718.30 v7 M679.20 718.30 v7 M733.60 718.30 v7" stroke="#1a1a1a" stroke-width="2.3" fill="none"/>
<path d="M475.20 718.30 v3.8 M488.80 718.30 v3.8 M502.40 718.30 v3.8 M529.60 718.30 v3.8 M543.20 718.30 v3.8 M556.80 718.30 v3.8 M584.00 718.30 v3.8 M597.60 718.30 v3.8 M611.20 718.30 v3.8 M638.40 718.30 v3.8 M652.00 718.30 v3.8 M665.60 718.30 v3.8 M692.80 718.30 v3.8 M706.40 718.30 v3.8 M720.00 718.30 v3.8" stroke="#333" stroke-width="1.4" fill="none"/>
<path d="M460.80 716.60 h-8.2 M460.80 658.15 h-8.2 M460.80 599.70 h-8.2 M460.80 541.25 h-8.2 M460.80 482.80 h-8.2" stroke="#111" stroke-width="2" fill="none"/>
<path d="M460.80 704.91 h-3.6 M460.80 693.22 h-3.6 M460.80 681.53 h-3.6 M460.80 669.84 h-3.6 M460.80 646.46 h-3.6 M460.80 634.77 h-3.6 M460.80 623.08 h-3.6 M460.80 611.39 h-3.6 M460.80 588.01 h-3.6 M460.80 576.32 h-3.6 M460.80 564.63 h-3.6 M460.80 552.94 h-3.6 M460.80 529.56 h-3.6 M460.80 517.87 h-3.6 M460.80 506.18 h-3.6 M460.80 494.49 h-3.6 M460.80 471.11 h-3.6 M460.80 459.42 h-3.6 M460.80 447.73 h-3.6 M460.80 436.04 h-3.6" stroke="#333" stroke-width="1.3" fill="none"/>
<g fill="#111" opacity="0.9" font-family="'Liberation Sans',sans-serif" font-size="11" stroke="#111" stroke-width="0.35"><text transform="translate(462.80 738.30) rotate(0.03) scale(0.9 1)" text-anchor="middle">0</text><text transform="translate(516.00 738.30) rotate(0.03) scale(0.9 1)" text-anchor="middle">200</text><text transform="translate(570.40 738.30) rotate(0.03) scale(0.9 1)" text-anchor="middle">400</text><text transform="translate(624.80 738.30) rotate(0.03) scale(0.9 1)" text-anchor="middle">600</text><text transform="translate(679.20 738.30) rotate(0.03) scale(0.9 1)" text-anchor="middle">800</text><text transform="translate(730.80 738.30) rotate(0.03) scale(0.9 1)" text-anchor="middle">1,0K</text><text transform="translate(448.60 717.20) rotate(0.03) scale(0.98 1)" text-anchor="end">0</text><text transform="translate(448.60 662.95) rotate(0.03) scale(0.98 1)" text-anchor="end">50</text><text transform="translate(448.60 604.50) rotate(0.03) scale(0.98 1)" text-anchor="end">100</text><text transform="translate(448.60 546.05) rotate(0.03) scale(0.98 1)" text-anchor="end">150</text><text transform="translate(448.60 487.60) rotate(0.03) scale(0.98 1)" text-anchor="end">200</text></g>
<path d="M134.60 758.80 L415.00 758.80 L415.00 1044.70" fill="none" stroke="#8c8c8c" stroke-width="1.8"/>
<path d="M134.60 758.80 L134.60 1044.70 L415.00 1044.70" fill="none" stroke="#4a4a4a" stroke-width="1.9"/>
<path d="M135.1 1044.7 L135.1 1043.6 L135.8 1041.7 L136.6 1039.9 L137.3 1038.3 L138.1 1037.0 L138.6 1036.2 L138.8 1035.9 L139.6 1035.0 L140.3 1034.0 L141.1 1033.3 L141.8 1032.8 L142.5 1032.7 L142.6 1032.7 L143.3 1032.8 L144.1 1033.2 L144.8 1033.7 L145.6 1034.3 L146.3 1034.9 L147.1 1035.5 L147.8 1036.0 L148.4 1036.2 L148.6 1036.3 L149.3 1036.5 L150.1 1036.7 L150.8 1036.9 L151.6 1037.1 L152.3 1037.3 L153.1 1037.5 L153.8 1037.6 L154.6 1037.8 L155.3 1037.9 L156.1 1038.1 L156.8 1038.2 L157.2 1038.3 L157.6 1038.4 L158.3 1038.6 L159.1 1038.8 L159.8 1039.0 L160.6 1039.3 L161.3 1039.5 L162.1 1039.7 L162.8 1039.9 L163.6 1040.2 L164.3 1040.3 L165.1 1040.5 L165.8 1040.7 L166.6 1040.8 L167.3 1040.9 L168.1 1041.0 L168.7 1041.0 L168.8 1041.0 L169.6 1040.8 L170.3 1040.4 L171.1 1039.8 L171.8 1039.1 L172.6 1038.3 L173.3 1037.6 L174.1 1036.9 L174.8 1036.2 L174.9 1036.2 L175.6 1035.7 L176.3 1035.2 L177.1 1034.8 L177.8 1034.4 L178.6 1033.9 L179.3 1033.4 L180.1 1032.8 L180.8 1032.0 L181.1 1031.8 L181.6 1031.1 L182.3 1029.6 L183.1 1027.7 L183.7 1025.6 L183.8 1025.2 L184.6 1021.3 L185.3 1015.8 L186.1 1009.0 L186.4 1006.1 L186.8 1000.7 L187.6 989.3 L188.2 979.6 L188.3 975.9 L189.1 959.0 L189.4 953.1 L189.8 946.4 L189.9 945.0 L190.6 928.4 L191.3 905.3 L191.7 895.3 L192.1 885.0 L192.8 866.4 L193.5 851.1 L193.6 847.8 L194.3 828.1 L195.1 809.9 L195.2 806.9 L195.8 793.1 L196.6 778.9 L197.0 776.3 L197.3 778.3 L198.1 791.8 L198.8 806.9 L198.8 808.6 L199.6 826.6 L200.3 846.3 L200.5 851.1 L201.1 864.9 L201.8 883.5 L202.3 895.3 L202.6 903.6 L203.3 927.0 L204.1 945.0 L204.1 945.4 L204.8 955.9 L205.6 964.3 L205.8 967.2 L206.3 973.6 L207.1 983.0 L207.6 988.4 L207.8 990.5 L208.6 997.0 L209.3 1002.8 L210.1 1007.8 L210.8 1011.9 L211.2 1013.2 L211.6 1015.0 L212.3 1017.8 L213.1 1020.0 L213.8 1021.1 L213.8 1021.2 L214.6 1021.9 L215.3 1022.5 L216.1 1023.0 L216.8 1023.5 L217.6 1023.9 L218.3 1024.2 L219.1 1024.5 L219.8 1024.6 L220.6 1024.7 L220.9 1024.7 L221.3 1024.7 L222.1 1024.4 L222.8 1024.0 L223.6 1023.5 L224.3 1022.9 L225.1 1022.2 L225.3 1022.0 L225.8 1021.3 L226.6 1019.7 L227.3 1017.7 L228.1 1015.7 L228.8 1014.1 L228.8 1014.1 L229.6 1012.5 L230.3 1010.9 L231.1 1009.4 L231.8 1008.5 L232.4 1008.2 L232.6 1008.2 L233.3 1008.4 L234.1 1008.8 L234.8 1009.2 L235.6 1009.7 L236.3 1010.2 L237.1 1010.7 L237.8 1011.0 L238.6 1011.1 L238.6 1011.1 L239.3 1011.0 L240.1 1010.8 L240.8 1010.5 L241.6 1010.1 L242.3 1009.7 L242.5 1009.7 L243.1 1009.0 L243.8 1007.9 L244.6 1006.6 L245.3 1005.6 L246.0 1005.2 L246.1 1005.2 L246.8 1005.8 L247.6 1007.0 L248.3 1008.3 L249.1 1009.2 L249.2 1009.3 L249.8 1009.7 L250.6 1010.0 L251.3 1010.3 L252.1 1010.7 L252.7 1011.1 L252.8 1011.2 L253.6 1012.3 L254.3 1013.8 L255.1 1015.5 L255.8 1017.0 L256.2 1017.6 L256.6 1018.1 L257.4 1019.0 L258.1 1019.7 L258.9 1020.4 L259.6 1021.0 L259.8 1021.1 L260.4 1021.5 L261.1 1021.9 L261.9 1022.3 L262.6 1022.6 L263.4 1022.9 L264.1 1023.2 L264.9 1023.5 L265.6 1023.9 L266.4 1024.3 L266.9 1024.7 L267.1 1024.9 L267.9 1025.7 L268.6 1026.8 L269.4 1028.0 L270.1 1029.1 L270.9 1030.1 L271.6 1030.7 L272.2 1030.9 L272.4 1030.9 L273.1 1030.8 L273.9 1030.6 L274.6 1030.3 L275.4 1030.0 L276.1 1029.7 L276.9 1029.3 L277.6 1029.0 L278.4 1028.8 L279.1 1028.8 L279.2 1028.8 L279.9 1028.8 L280.6 1029.1 L281.4 1029.5 L282.1 1030.1 L282.9 1030.6 L283.6 1031.2 L284.4 1031.7 L284.6 1031.8 L285.1 1032.1 L285.9 1032.5 L286.6 1032.9 L287.4 1033.4 L288.1 1033.8 L288.9 1034.3 L289.6 1034.8 L290.4 1035.2 L291.1 1035.6 L291.9 1036.0 L292.6 1036.3 L293.4 1036.6 L294.1 1036.8 L294.9 1037.0 L295.6 1037.1 L296.1 1037.1 L296.4 1037.1 L297.1 1037.0 L297.9 1037.0 L298.6 1036.9 L299.4 1036.8 L300.1 1036.7 L300.9 1036.6 L301.6 1036.5 L302.4 1036.4 L303.1 1036.2 L303.9 1036.1 L304.6 1036.0 L305.4 1036.0 L306.1 1035.9 L306.9 1035.8 L307.6 1035.8 L307.6 1035.8 L308.4 1035.9 L309.1 1036.0 L309.9 1036.2 L310.6 1036.4 L311.4 1036.6 L312.1 1036.9 L312.9 1037.2 L313.6 1037.4 L314.4 1037.6 L315.1 1037.8 L315.9 1037.9 L316.4 1038.0 L316.6 1038.0 L317.4 1038.0 L318.1 1038.0 L318.9 1038.0 L319.6 1038.1 L320.4 1038.1 L321.1 1038.1 L321.9 1038.1 L322.6 1038.1 L323.4 1038.1 L324.1 1038.1 L324.9 1038.1 L325.6 1038.1 L326.4 1038.2 L327.1 1038.2 L327.9 1038.2 L328.6 1038.2 L329.4 1038.2 L330.1 1038.2 L330.9 1038.2 L331.6 1038.3 L332.3 1038.3 L332.4 1038.3 L333.1 1038.4 L333.9 1038.7 L334.6 1039.0 L335.4 1039.4 L336.1 1039.8 L336.9 1040.2 L337.6 1040.6 L338.4 1040.8 L339.1 1041.0 L339.4 1041.0 L339.9 1040.9 L340.6 1040.9 L341.4 1040.7 L342.1 1040.5 L342.9 1040.4 L343.6 1040.2 L344.4 1040.0 L345.1 1039.8 L345.9 1039.8 L346.5 1039.7 L346.6 1039.7 L347.4 1039.7 L348.1 1039.8 L348.9 1039.8 L349.6 1039.8 L350.4 1039.9 L351.1 1040.0 L351.9 1040.0 L352.6 1040.1 L353.4 1040.2 L354.1 1040.3 L354.9 1040.4 L355.6 1040.5 L356.4 1040.6 L357.1 1040.7 L357.9 1040.8 L358.6 1040.9 L358.8 1041.0 L359.4 1041.0 L360.1 1041.2 L360.9 1041.4 L361.6 1041.6 L362.4 1041.8 L363.1 1041.8 L363.3 1041.8 L363.9 1041.8 L364.6 1041.7 L365.4 1041.5 L366.1 1041.4 L366.9 1041.2 L367.6 1041.0 L368.4 1041.0 L368.6 1041.0 L369.1 1041.0 L369.9 1041.0 L370.6 1041.1 L371.4 1041.3 L372.1 1041.4 L372.9 1041.5 L373.6 1041.7 L374.4 1041.8 L375.1 1041.9 L375.9 1042.0 L376.5 1042.0 L376.6 1042.0 L377.4 1042.0 L378.1 1042.0 L378.9 1042.0 L379.6 1042.0 L380.4 1042.0 L381.1 1042.0 L381.9 1042.0 L382.6 1042.0 L383.4 1042.0 L384.1 1042.0 L384.9 1042.0 L385.6 1042.0 L386.4 1042.0 L387.1 1042.0 L387.1 1042.0 L387.9 1042.1 L388.6 1042.2 L389.4 1042.4 L390.1 1042.5 L390.9 1042.7 L391.6 1042.8 L392.4 1042.9 L392.4 1042.9 L393.1 1042.9 L393.9 1042.8 L394.6 1042.7 L395.4 1042.5 L396.1 1042.3 L396.9 1042.1 L397.6 1041.9 L398.4 1041.7 L399.1 1041.6 L399.9 1041.5 L400.4 1041.5 L400.6 1041.5 L401.4 1041.5 L402.1 1041.6 L402.9 1041.7 L403.6 1041.9 L404.4 1042.1 L405.1 1042.3 L405.9 1042.5 L406.6 1042.8 L407.4 1043.2 L408.1 1043.5 L408.4 1043.6 L408.4 1044.7 Z" fill="#000" stroke="#000" stroke-width="0.6" stroke-linejoin="round"/>
<path d="M135.10 1044.70 v7 M189.76 1044.70 v7 M244.42 1044.70 v7 M299.08 1044.70 v7 M353.74 1044.70 v7 M408.40 1044.70 v7" stroke="#1a1a1a" stroke-width="2.3" fill="none"/>
<path d="M148.76 1044.70 v3.8 M162.43 1044.70 v3.8 M176.09 1044.70 v3.8 M203.42 1044.70 v3.8 M217.09 1044.70 v3.8 M230.75 1044.70 v3.8 M258.08 1044.70 v3.8 M271.75 1044.70 v3.8 M285.41 1044.70 v3.8 M312.74 1044.70 v3.8 M326.41 1044.70 v3.8 M340.07 1044.70 v3.8 M367.40 1044.70 v3.8 M381.07 1044.70 v3.8 M394.73 1044.70 v3.8" stroke="#333" stroke-width="1.4" fill="none"/>
<path d="M134.60 1043.10 h-8.2 M134.60 977.55 h-8.2 M134.60 912.00 h-8.2 M134.60 846.45 h-8.2 M134.60 780.90 h-8.2" stroke="#111" stroke-width="2" fill="none"/>
<path d="M134.60 1026.71 h-3.6 M134.60 1010.32 h-3.6 M134.60 993.94 h-3.6 M134.60 961.16 h-3.6 M134.60 944.77 h-3.6 M134.60 928.39 h-3.6 M134.60 895.61 h-3.6 M134.60 879.22 h-3.6 M134.60 862.84 h-3.6 M134.60 830.06 h-3.6 M134.60 813.67 h-3.6 M134.60 797.29 h-3.6 M134.60 764.51 h-3.6" stroke="#333" stroke-width="1.3" fill="none"/>
<g fill="#111" opacity="0.9" font-family="'Liberation Sans',sans-serif" font-size="11" stroke="#111" stroke-width="0.35"><text transform="translate(136.30 1064.70) rotate(0.03) scale(0.9 1)" text-anchor="middle">0</text><text transform="translate(189.76 1064.70) rotate(0.03) scale(0.9 1)" text-anchor="middle">200</text><text transform="translate(244.42 1064.70) rotate(0.03) scale(0.9 1)" text-anchor="middle">400</text><text transform="translate(299.08 1064.70) rotate(0.03) scale(0.9 1)" text-anchor="middle">600</text><text transform="translate(353.74 1064.70) rotate(0.03) scale(0.9 1)" text-anchor="middle">800</text><text transform="translate(405.60 1064.70) rotate(0.03) scale(0.9 1)" text-anchor="middle">1,0K</text><text transform="translate(122.40 1043.70) rotate(0.03) scale(0.98 1)" text-anchor="end">0</text><text transform="translate(122.40 982.35) rotate(0.03) scale(0.98 1)" text-anchor="end">100</text><text transform="translate(122.40 916.80) rotate(0.03) scale(0.98 1)" text-anchor="end">200</text><text transform="translate(122.40 851.25) rotate(0.03) scale(0.98 1)" text-anchor="end">300</text><text transform="translate(122.40 785.70) rotate(0.03) scale(0.98 1)" text-anchor="end">400</text></g>
<path d="M460.80 758.80 L742.80 758.80 L742.80 1044.70" fill="none" stroke="#8c8c8c" stroke-width="1.8"/>
<path d="M460.80 758.80 L460.80 1044.70 L742.80 1044.70" fill="none" stroke="#4a4a4a" stroke-width="1.9"/>
<path d="M461.2 1044.7 L461.2 1043.6 L461.7 945.0 L462.0 893.7 L462.4 798.1 L462.7 784.7 L463.3 769.8 L463.5 769.8 L464.2 769.8 L465.0 769.8 L465.7 769.8 L466.5 769.8 L467.1 769.8 L467.2 771.6 L468.0 808.1 L468.1 815.8 L468.7 847.4 L469.2 868.8 L469.5 878.6 L470.2 899.1 L470.4 904.2 L471.0 918.2 L471.7 935.7 L472.2 945.0 L472.5 949.9 L473.2 961.4 L473.9 970.8 L474.0 971.0 L474.7 979.6 L475.5 987.5 L476.2 993.5 L476.6 995.5 L477.0 996.9 L477.7 999.0 L478.5 1000.7 L479.2 1002.2 L480.0 1003.9 L480.1 1004.4 L480.7 1006.0 L481.5 1008.5 L482.2 1010.9 L483.0 1013.2 L483.7 1015.0 L483.7 1015.0 L484.5 1016.6 L485.2 1018.0 L486.0 1019.2 L486.7 1020.3 L487.5 1021.3 L488.1 1022.0 L488.2 1022.2 L489.0 1023.0 L489.7 1023.8 L490.5 1024.5 L491.2 1025.0 L492.0 1025.4 L492.5 1025.6 L492.7 1025.6 L493.5 1025.7 L494.2 1025.8 L495.0 1025.8 L495.7 1025.9 L496.5 1025.9 L496.9 1025.9 L497.2 1025.9 L498.0 1025.8 L498.7 1025.5 L499.5 1025.0 L500.2 1024.5 L501.0 1023.9 L501.7 1023.3 L502.2 1022.9 L502.5 1022.8 L503.2 1022.1 L504.0 1021.4 L504.7 1020.6 L505.5 1019.6 L506.2 1018.4 L506.7 1017.6 L507.0 1017.0 L507.7 1015.0 L508.5 1012.3 L509.2 1008.5 L509.3 1007.9 L510.0 1001.4 L510.7 990.3 L511.1 984.9 L511.5 980.0 L512.2 969.7 L512.9 961.9 L513.0 960.7 L513.7 953.6 L514.5 946.7 L514.6 945.0 L515.2 938.1 L516.0 928.2 L516.7 918.8 L517.3 913.0 L517.5 911.5 L518.2 905.8 L519.0 900.9 L519.7 896.5 L519.9 895.3 L520.5 892.3 L521.2 887.9 L522.0 884.5 L522.6 883.5 L522.7 883.6 L523.5 888.4 L524.2 897.6 L524.7 904.2 L525.0 908.3 L525.7 923.7 L526.1 930.7 L526.5 934.8 L527.2 942.1 L527.5 945.0 L528.0 949.0 L528.7 955.9 L529.5 962.3 L530.2 968.3 L530.5 970.8 L531.0 973.9 L531.7 980.1 L532.5 986.2 L533.2 991.7 L534.0 995.9 L534.7 998.0 L535.0 998.2 L535.5 998.1 L536.2 997.9 L537.0 997.6 L537.6 997.3 L537.7 997.2 L538.5 996.4 L539.2 995.1 L540.0 993.9 L540.7 993.0 L541.1 992.9 L541.5 992.9 L542.2 993.4 L543.0 994.2 L543.7 995.0 L544.5 995.5 L544.7 995.5 L545.2 994.5 L546.0 990.7 L546.7 985.4 L547.3 981.4 L547.5 980.6 L548.2 975.3 L549.0 969.8 L549.7 966.0 L550.0 965.4 L550.5 965.0 L551.2 964.5 L552.0 964.1 L552.6 964.0 L552.7 964.0 L553.5 965.4 L554.2 967.4 L554.8 968.1 L555.0 967.9 L555.7 963.9 L556.5 958.1 L557.1 954.8 L557.2 954.4 L558.0 952.6 L558.7 951.2 L559.5 950.0 L559.7 949.5 L560.2 948.6 L561.0 947.2 L561.7 945.8 L562.5 944.6 L563.2 944.0 L563.6 943.9 L564.0 944.0 L564.7 944.7 L565.5 946.0 L565.9 946.9 L566.2 947.6 L567.0 950.5 L567.7 953.8 L568.5 956.4 L568.6 956.6 L569.2 957.6 L570.0 958.5 L570.7 959.3 L571.5 960.1 L572.1 961.0 L572.2 961.2 L573.0 962.7 L573.7 964.4 L574.5 966.4 L575.2 968.6 L575.6 969.9 L576.0 970.9 L576.7 973.5 L577.5 976.4 L578.2 979.4 L579.0 982.3 L579.2 983.1 L579.7 985.2 L580.5 988.2 L581.2 991.3 L582.0 994.2 L582.7 996.8 L583.5 998.8 L583.6 999.0 L584.2 1000.1 L585.0 1001.3 L585.7 1002.2 L586.5 1003.0 L587.2 1003.9 L588.0 1004.8 L588.7 1005.8 L588.9 1006.1 L589.5 1007.1 L590.2 1008.5 L591.0 1010.1 L591.7 1011.7 L592.5 1013.3 L593.2 1014.7 L593.3 1015.0 L594.0 1016.1 L594.7 1017.7 L595.5 1019.2 L596.2 1020.8 L597.0 1022.2 L597.7 1023.3 L598.5 1024.2 L599.2 1024.7 L599.5 1024.7 L600.0 1024.7 L600.7 1024.6 L601.5 1024.6 L602.2 1024.5 L603.0 1024.4 L603.7 1024.3 L604.5 1024.2 L605.2 1024.2 L605.7 1024.2 L606.0 1024.2 L606.7 1024.2 L607.5 1024.2 L608.2 1024.3 L609.0 1024.4 L609.7 1024.5 L610.5 1024.6 L611.2 1024.7 L612.0 1024.8 L612.7 1025.0 L613.5 1025.1 L614.2 1025.2 L614.5 1025.2 L615.0 1025.3 L615.7 1025.4 L616.5 1025.5 L617.2 1025.5 L618.0 1025.6 L618.7 1025.7 L619.5 1025.8 L620.2 1025.9 L621.0 1026.0 L621.7 1026.2 L622.5 1026.3 L623.2 1026.4 L623.4 1026.5 L624.0 1026.6 L624.7 1026.9 L625.5 1027.2 L626.2 1027.5 L627.0 1027.9 L627.7 1028.1 L628.5 1028.2 L628.7 1028.2 L629.2 1028.2 L630.0 1027.8 L630.7 1027.4 L631.5 1026.8 L632.2 1026.3 L633.0 1025.8 L633.7 1025.6 L634.0 1025.6 L634.5 1025.6 L635.2 1025.6 L636.0 1025.6 L636.7 1025.7 L637.5 1025.8 L638.2 1025.8 L639.0 1025.9 L639.7 1026.0 L640.5 1026.1 L641.2 1026.2 L642.0 1026.3 L642.7 1026.4 L642.9 1026.5 L643.5 1026.5 L644.2 1026.7 L645.0 1026.8 L645.7 1027.0 L646.5 1027.1 L647.2 1027.3 L648.0 1027.5 L648.7 1027.7 L649.5 1028.0 L650.2 1028.2 L651.0 1028.5 L651.7 1028.8 L651.7 1028.8 L652.5 1029.2 L653.2 1029.8 L654.0 1030.5 L654.7 1031.4 L655.5 1032.2 L656.2 1033.0 L657.0 1033.6 L657.7 1034.1 L658.5 1034.4 L658.8 1034.4 L659.2 1034.4 L660.0 1034.2 L660.7 1034.0 L661.5 1033.7 L662.2 1033.4 L663.0 1033.1 L663.7 1032.8 L664.5 1032.7 L665.0 1032.7 L665.2 1032.7 L666.0 1032.8 L666.7 1033.2 L667.5 1033.6 L668.2 1034.1 L669.0 1034.5 L669.7 1034.9 L670.5 1035.2 L671.1 1035.3 L671.2 1035.3 L672.0 1035.3 L672.7 1035.2 L673.5 1035.1 L674.2 1035.0 L675.0 1034.9 L675.7 1034.8 L676.5 1034.8 L677.2 1034.8 L678.0 1035.0 L678.7 1035.3 L679.5 1035.6 L680.2 1036.0 L681.0 1036.4 L681.7 1036.8 L682.5 1037.2 L683.2 1037.5 L684.0 1037.8 L684.7 1037.9 L685.3 1038.0 L685.5 1038.0 L686.2 1038.0 L687.0 1038.0 L687.7 1038.0 L688.5 1038.0 L689.2 1038.0 L690.0 1038.0 L690.7 1038.0 L691.5 1038.0 L692.2 1038.0 L693.0 1038.0 L693.7 1038.0 L694.1 1038.0 L694.5 1038.0 L695.2 1038.0 L696.0 1038.2 L696.7 1038.3 L697.5 1038.5 L698.2 1038.8 L699.0 1039.0 L699.7 1039.3 L700.5 1039.5 L701.2 1039.7 L701.2 1039.7 L702.0 1040.0 L702.7 1040.2 L703.5 1040.5 L704.2 1040.8 L705.0 1041.1 L705.7 1041.4 L706.5 1041.6 L707.2 1041.8 L708.0 1041.8 L708.3 1041.8 L708.7 1041.8 L709.5 1041.8 L710.2 1041.8 L711.0 1041.7 L711.7 1041.7 L712.5 1041.6 L713.2 1041.5 L714.0 1041.5 L714.7 1041.4 L715.5 1041.3 L716.2 1041.2 L717.0 1041.2 L717.7 1041.2 L718.5 1041.1 L718.9 1041.1 L719.2 1041.1 L720.0 1041.2 L720.7 1041.3 L721.5 1041.4 L722.2 1041.5 L723.0 1041.7 L723.7 1041.9 L724.5 1042.0 L725.2 1042.2 L726.0 1042.5 L726.7 1042.7 L727.5 1042.8 L727.8 1042.9 L728.2 1043.0 L729.0 1043.2 L729.7 1043.4 L730.5 1043.6 L731.2 1043.8 L732.0 1044.1 L732.7 1044.3 L733.5 1044.5 L733.9 1044.7 L733.9 1044.7 Z" fill="#000" stroke="#000" stroke-width="0.6" stroke-linejoin="round"/>
<path d="M461.60 1044.70 v7 M516.00 1044.70 v7 M570.40 1044.70 v7 M624.80 1044.70 v7 M679.20 1044.70 v7 M733.60 1044.70 v7" stroke="#1a1a1a" stroke-width="2.3" fill="none"/>
<path d="M475.20 1044.70 v3.8 M488.80 1044.70 v3.8 M502.40 1044.70 v3.8 M529.60 1044.70 v3.8 M543.20 1044.70 v3.8 M556.80 1044.70 v3.8 M584.00 1044.70 v3.8 M597.60 1044.70 v3.8 M611.20 1044.70 v3.8 M638.40 1044.70 v3.8 M652.00 1044.70 v3.8 M665.60 1044.70 v3.8 M692.80 1044.70 v3.8 M706.40 1044.70 v3.8 M720.00 1044.70 v3.8" stroke="#333" stroke-width="1.4" fill="none"/>
<path d="M460.80 1043.20 h-8.2 M460.80 967.90 h-8.2 M460.80 892.60 h-8.2 M460.80 817.30 h-8.2" stroke="#111" stroke-width="2" fill="none"/>
<path d="M460.80 1028.14 h-3.6 M460.80 1013.08 h-3.6 M460.80 998.02 h-3.6 M460.80 982.96 h-3.6 M460.80 952.84 h-3.6 M460.80 937.78 h-3.6 M460.80 922.72 h-3.6 M460.80 907.66 h-3.6 M460.80 877.54 h-3.6 M460.80 862.48 h-3.6 M460.80 847.42 h-3.6 M460.80 832.36 h-3.6 M460.80 802.24 h-3.6 M460.80 787.18 h-3.6 M460.80 772.12 h-3.6" stroke="#333" stroke-width="1.3" fill="none"/>
<g fill="#111" opacity="0.9" font-family="'Liberation Sans',sans-serif" font-size="11" stroke="#111" stroke-width="0.35"><text transform="translate(462.80 1064.70) rotate(0.03) scale(0.9 1)" text-anchor="middle">0</text><text transform="translate(516.00 1064.70) rotate(0.03) scale(0.9 1)" text-anchor="middle">200</text><text transform="translate(570.40 1064.70) rotate(0.03) scale(0.9 1)" text-anchor="middle">400</text><text transform="translate(624.80 1064.70) rotate(0.03) scale(0.9 1)" text-anchor="middle">600</text><text transform="translate(679.20 1064.70) rotate(0.03) scale(0.9 1)" text-anchor="middle">800</text><text transform="translate(730.80 1064.70) rotate(0.03) scale(0.9 1)" text-anchor="middle">1,0K</text><text transform="translate(448.60 1043.80) rotate(0.03) scale(0.98 1)" text-anchor="end">0</text><text transform="translate(448.60 972.70) rotate(0.03) scale(0.98 1)" text-anchor="end">50</text><text transform="translate(448.60 897.40) rotate(0.03) scale(0.98 1)" text-anchor="end">100</text><text transform="translate(448.60 822.10) rotate(0.03) scale(0.98 1)" text-anchor="end">150</text></g>
<text transform="translate(193.30 135.75) rotate(0.03) scale(1.0409 1)" font-family="'DejaVu Sans','Liberation Sans',sans-serif" font-weight="normal" font-size="20.47" fill="#000"><tspan>Sub-G</tspan><tspan dy="3.38" font-size="11.87">0</tspan></text>
<text transform="translate(298.38 220.72) rotate(0.03) scale(1.0553 1)" font-family="'DejaVu Sans','Liberation Sans',sans-serif" font-weight="normal" font-size="20.65" fill="#000"><tspan>G</tspan><tspan dy="3.41" font-size="11.98">0</tspan><tspan dy="-3.41">/G</tspan><tspan dy="3.41" font-size="11.98">1</tspan></text>
<text transform="translate(279.41 270.10) rotate(0.03) scale(1.1567 1)" font-family="'DejaVu Sans','Liberation Sans',sans-serif" font-weight="normal" font-size="20.89" fill="#000">S</text>
<text transform="translate(338.13 286.33) rotate(0.03) scale(1.1393 1)" font-family="'DejaVu Sans','Liberation Sans',sans-serif" font-weight="normal" font-size="19.84" fill="#000"><tspan>G</tspan><tspan dy="3.27" font-size="11.51">2</tspan><tspan dy="-3.27">/M</tspan></text>
<path d="M196.1 118.9 C189 115.6 183 115.2 176.5 116.6 C168.5 118.6 165.8 124 164.8 133 C162.4 160 160.4 195 159.4 232" fill="none" stroke="#000" stroke-width="1.7" stroke-linecap="round"/>
<path d="M159 251 L149 218.5 L159.4 231 L169.8 218.5 Z" fill="#000"/>
<path d="M297 216.2 C288 219.6 277 218.8 266 214.8 C252 209 236 197.5 222 188" fill="none" stroke="#000" stroke-width="1.7" stroke-linecap="round"/>
<path d="M204.4 173.4 L237 186 L223.2 188.8 L225.4 202.2 Z" fill="#000"/>
<path d="M279.5 265.6 C270 264.6 262 264.2 254 265.4 C245 267.6 238.5 277 234.2 287 C229.2 299 225.2 318 223.2 334" fill="none" stroke="#000" stroke-width="1.7" stroke-linecap="round"/>
<path d="M220.8 358.4 L213.6 322 L223 334.6 L234.4 326.6 Z" fill="#000"/>
<path d="M337.8 281.2 C330 277.6 322 274.6 315.5 275 C309 275.6 304 280.6 298.5 287 C289 298.5 278.5 313 268.8 325" fill="none" stroke="#000" stroke-width="1.7" stroke-linecap="round"/>
<path d="M253.4 342.2 L270.4 313.4 L268.6 325.4 L284.8 327.8 Z" fill="#000"/>
<rect x="962.50" y="387.10" width="79.20" height="2.20" fill="#646464" stroke="#000" stroke-width="3.0"/>
<path d="M1002.10 384.00 V386.20 M981.60 384.00 h41 M981.60 386.20 h41" fill="none" stroke="#000" stroke-width="2.8"/>
<rect x="1053.50" y="341.30" width="78.40" height="48.00" fill="#fc6595" stroke="#000" stroke-width="3.0"/>
<path d="M1092.70 329.20 V349.60 M1072.20 329.20 h41 M1072.20 349.60 h41" fill="none" stroke="#000" stroke-width="2.8"/>
<rect x="1168.10" y="250.10" width="79.30" height="139.20" fill="#646464" stroke="#000" stroke-width="3.0"/>
<path d="M1207.75 243.80 V252.00 M1187.25 243.80 h41 M1187.25 252.00 h41" fill="none" stroke="#000" stroke-width="2.8"/>
<rect x="1259.20" y="272.70" width="79.20" height="116.60" fill="#fc6595" stroke="#000" stroke-width="3.0"/>
<path d="M1298.80 257.10 V285.40 M1278.30 257.10 h41 M1278.30 285.40 h41" fill="none" stroke="#000" stroke-width="2.8"/>
<rect x="1374.70" y="307.20" width="79.20" height="82.10" fill="#646464" stroke="#000" stroke-width="3.0"/>
<path d="M1414.30 297.80 V312.30 M1393.80 297.80 h41 M1393.80 312.30 h41" fill="none" stroke="#000" stroke-width="2.8"/>
<rect x="1465.40" y="324.00" width="79.20" height="65.30" fill="#fc6595" stroke="#000" stroke-width="3.0"/>
<rect x="1484.70" y="318.30" width="40.6" height="4.60" fill="#474747"/>
<path d="M1505.00 320.50 V325.00 M1484.50 325.00 h41" fill="none" stroke="#000" stroke-width="2.8"/>
<rect x="1580.90" y="335.20" width="79.20" height="54.10" fill="#646464" stroke="#000" stroke-width="3.0"/>
<path d="M1620.50 329.20 V337.90 M1600.00 329.20 h41 M1600.00 337.90 h41" fill="none" stroke="#000" stroke-width="2.8"/>
<rect x="1671.60" y="341.30" width="79.10" height="48.00" fill="#fc6595" stroke="#000" stroke-width="3.0"/>
<rect x="1690.85" y="335.80" width="40.6" height="4.40" fill="#474747"/>
<path d="M1711.15 338.00 V342.10 M1690.65 342.10 h41" fill="none" stroke="#000" stroke-width="2.8"/>
<path d="M909.80 102.40 V389.30 H1803.20" fill="none" stroke="#000" stroke-width="3.1" stroke-linejoin="miter"/>
<path d="M909.80 389.30 h-9.6 M909.80 360.76 h-9.6 M909.80 332.22 h-9.6 M909.80 303.68 h-9.6 M909.80 275.14 h-9.6 M909.80 246.60 h-9.6 M909.80 218.06 h-9.6 M909.80 189.52 h-9.6 M909.80 160.98 h-9.6 M909.80 132.44 h-9.6 M909.80 103.90 h-9.6" fill="none" stroke="#000" stroke-width="2.9"/>
<path d="M1046.80 389.30 v8.2 M1252.90 389.30 v8.2 M1459.00 389.30 v8.2 M1665.10 389.30 v8.2" fill="none" stroke="#000" stroke-width="2.7"/>
<text transform="translate(884.10 396.40) rotate(0.03) scale(1.0822 1)" font-family="'Liberation Sans',sans-serif" font-weight="bold" font-size="20.62" fill="#000">0</text>
<text transform="translate(871.08 367.86) rotate(0.03) scale(1.1100 1)" font-family="'Liberation Sans',sans-serif" font-weight="bold" font-size="20.62" fill="#000">10</text>
<text transform="translate(871.08 339.32) rotate(0.03) scale(1.1100 1)" font-family="'Liberation Sans',sans-serif" font-weight="bold" font-size="20.62" fill="#000">20</text>
<text transform="translate(871.08 310.75) rotate(0.03) scale(1.1123 1)" font-family="'Liberation Sans',sans-serif" font-weight="bold" font-size="20.58" fill="#000">30</text>
<text transform="translate(871.08 282.24) rotate(0.03) scale(1.1100 1)" font-family="'Liberation Sans',sans-serif" font-weight="bold" font-size="20.62" fill="#000">40</text>
<text transform="translate(871.08 253.70) rotate(0.03) scale(1.1100 1)" font-family="'Liberation Sans',sans-serif" font-weight="bold" font-size="20.62" fill="#000">50</text>
<text transform="translate(871.08 225.16) rotate(0.03) scale(1.1100 1)" font-family="'Liberation Sans',sans-serif" font-weight="bold" font-size="20.62" fill="#000">60</text>
<text transform="translate(871.08 196.62) rotate(0.03) scale(1.1100 1)" font-family="'Liberation Sans',sans-serif" font-weight="bold" font-size="20.62" fill="#000">70</text>
<text transform="translate(871.08 168.08) rotate(0.03) scale(1.1100 1)" font-family="'Liberation Sans',sans-serif" font-weight="bold" font-size="20.62" fill="#000">80</text>
<text transform="translate(871.08 139.54) rotate(0.03) scale(1.1100 1)" font-family="'Liberation Sans',sans-serif" font-weight="bold" font-size="20.62" fill="#000">90</text>
<text transform="translate(859.09 111.00) rotate(0.03) scale(1.0878 1)" font-family="'Liberation Sans',sans-serif" font-weight="bold" font-size="20.62" fill="#000">100</text>
<text transform="translate(841.56 354.99) rotate(-89.97) scale(1 1.0850)" font-family="'Liberation Sans',sans-serif" font-weight="bold" font-size="23.73" fill="#000">Number of cells [%]</text>
<path d="M1002.00 365.80 V210.90 H1092.40 V311.90" fill="none" stroke="#000" stroke-width="2.7" stroke-linejoin="miter"/>
<path d="M1207.60 227.30 V210.90 H1298.40 V239.80" fill="none" stroke="#000" stroke-width="2.7" stroke-linejoin="miter"/>
<path d="M1413.90 280.70 V210.90 H1504.60 V302.70" fill="none" stroke="#000" stroke-width="2.7" stroke-linejoin="miter"/>
<path d="M1620.00 311.90 V210.90 H1710.90 V320.20" fill="none" stroke="#000" stroke-width="2.7" stroke-linejoin="miter"/>
<text transform="translate(1030.09 202.45) rotate(0.03) scale(1.0000 1)" font-family="'DejaVu Sans','Liberation Sans',sans-serif" font-weight="normal" font-size="29.17" fill="#000" letter-spacing="4.27" stroke="#000" stroke-width="0.8" stroke-linejoin="round">**</text>
<text transform="translate(1238.27 196.97) rotate(0.03) scale(1.1269 1)" font-family="'Liberation Sans',sans-serif" font-weight="normal" font-size="23.73" fill="#000">ns</text>
<text transform="translate(1444.27 196.97) rotate(0.03) scale(1.1269 1)" font-family="'Liberation Sans',sans-serif" font-weight="normal" font-size="23.73" fill="#000">ns</text>
<text transform="translate(1650.47 196.97) rotate(0.03) scale(1.1269 1)" font-family="'Liberation Sans',sans-serif" font-weight="normal" font-size="23.73" fill="#000">ns</text>
<text transform="translate(1006.51 429.80) rotate(0.03) scale(1.0611 1)" font-family="'Liberation Sans',sans-serif" font-weight="bold" font-size="22.53" fill="#000"><tspan>Sub-G</tspan><tspan dy="4.28" font-size="15.09" font-weight="normal">0</tspan></text>
<text transform="translate(1221.11 429.80) rotate(0.03) scale(1.0720 1)" font-family="'Liberation Sans',sans-serif" font-weight="bold" font-size="22.53" fill="#000"><tspan>G</tspan><tspan dy="4.28" font-size="15.09" font-weight="normal">0</tspan><tspan dy="-4.28">/G</tspan><tspan dy="4.28" font-size="15.09" font-weight="normal">1</tspan></text>
<text transform="translate(1451.83 429.80) rotate(0.03) scale(1.0298 1)" font-family="'Liberation Sans',sans-serif" font-weight="bold" font-size="22.53" fill="#000">S</text>
<text transform="translate(1638.31 429.80) rotate(0.03) scale(1.0698 1)" font-family="'Liberation Sans',sans-serif" font-weight="bold" font-size="22.53" fill="#000"><tspan>G</tspan><tspan dy="4.28" font-size="15.09" font-weight="normal">2</tspan><tspan dy="-4.28">/M</tspan></text>
<rect x="1824.3" y="226.75" width="39.0" height="15.0" fill="#646464" stroke="#000" stroke-width="3.5"/>
<rect x="1824.3" y="274.75" width="39.0" height="15.0" fill="#fc6595" stroke="#000" stroke-width="3.5"/>
<text transform="translate(1890.01 243.50) rotate(0.03) scale(1.1187 1)" font-family="'Liberation Sans',sans-serif" font-weight="normal" font-size="30.37" fill="#000">DMSO</text>
<text transform="translate(1890.16 291.70) rotate(0.03) scale(1.0605 1)" font-family="'Liberation Sans',sans-serif" font-weight="normal" font-size="30.38" fill="#000">4a</text>
<rect x="966.10" y="724.90" width="79.20" height="1.90" fill="#646464" stroke="#000" stroke-width="3.0"/>
<path d="M1005.70 722.00 V724.40 M985.20 722.00 h41 M985.20 724.40 h41" fill="none" stroke="#000" stroke-width="2.8"/>
<rect x="1056.70" y="652.50" width="78.70" height="74.30" fill="#fc6595" stroke="#000" stroke-width="3.0"/>
<path d="M1096.05 647.00 V655.80 M1075.55 647.00 h41 M1075.55 655.80 h41" fill="none" stroke="#000" stroke-width="2.8"/>
<rect x="1172.20" y="587.60" width="78.70" height="139.20" fill="#646464" stroke="#000" stroke-width="3.0"/>
<path d="M1211.55 577.80 V595.00 M1191.05 577.80 h41 M1191.05 595.00 h41" fill="none" stroke="#000" stroke-width="2.8"/>
<rect x="1262.70" y="647.40" width="78.60" height="79.40" fill="#fc6595" stroke="#000" stroke-width="3.0"/>
<path d="M1302.00 637.60 V653.30 M1281.50 637.60 h41 M1281.50 653.30 h41" fill="none" stroke="#000" stroke-width="2.8"/>
<rect x="1377.90" y="643.00" width="79.20" height="83.80" fill="#646464" stroke="#000" stroke-width="3.0"/>
<path d="M1417.50 634.10 V648.20 M1397.00 634.10 h41 M1397.00 648.20 h41" fill="none" stroke="#000" stroke-width="2.8"/>
<rect x="1468.20" y="690.70" width="79.30" height="36.10" fill="#fc6595" stroke="#000" stroke-width="3.0"/>
<path d="M1507.85 683.10 V695.10 M1487.35 683.10 h41 M1487.35 695.10 h41" fill="none" stroke="#000" stroke-width="2.8"/>
<rect x="1584.10" y="678.00" width="78.70" height="48.80" fill="#646464" stroke="#000" stroke-width="3.0"/>
<path d="M1623.45 673.00 V679.00 M1602.95 673.00 h41 M1602.95 679.00 h41" fill="none" stroke="#000" stroke-width="2.8"/>
<rect x="1674.30" y="643.00" width="79.00" height="83.80" fill="#fc6595" stroke="#000" stroke-width="3.0"/>
<path d="M1713.80 631.20 V651.60 M1693.30 631.20 h41 M1693.30 651.60 h41" fill="none" stroke="#000" stroke-width="2.8"/>
<path d="M914.30 444.40 V726.80 H1806.60" fill="none" stroke="#000" stroke-width="3.1" stroke-linejoin="miter"/>
<path d="M914.30 726.80 h-9.6 M914.30 698.71 h-9.6 M914.30 670.62 h-9.6 M914.30 642.53 h-9.6 M914.30 614.44 h-9.6 M914.30 586.35 h-9.6 M914.30 558.26 h-9.6 M914.30 530.17 h-9.6 M914.30 502.08 h-9.6 M914.30 473.99 h-9.6 M914.30 445.90 h-9.6" fill="none" stroke="#000" stroke-width="2.9"/>
<path d="M1050.40 726.80 v8.2 M1256.50 726.80 v8.2 M1462.60 726.80 v8.2 M1668.70 726.80 v8.2" fill="none" stroke="#000" stroke-width="2.7"/>
<text transform="translate(888.10 733.80) rotate(0.03) scale(1.0972 1)" font-family="'Liberation Sans',sans-serif" font-weight="bold" font-size="20.34" fill="#000">0</text>
<text transform="translate(875.08 705.71) rotate(0.03) scale(1.1255 1)" font-family="'Liberation Sans',sans-serif" font-weight="bold" font-size="20.34" fill="#000">10</text>
<text transform="translate(875.08 677.62) rotate(0.03) scale(1.1255 1)" font-family="'Liberation Sans',sans-serif" font-weight="bold" font-size="20.34" fill="#000">20</text>
<text transform="translate(875.08 649.50) rotate(0.03) scale(1.1278 1)" font-family="'Liberation Sans',sans-serif" font-weight="bold" font-size="20.30" fill="#000">30</text>
<text transform="translate(875.08 621.44) rotate(0.03) scale(1.1255 1)" font-family="'Liberation Sans',sans-serif" font-weight="bold" font-size="20.34" fill="#000">40</text>
<text transform="translate(875.08 593.35) rotate(0.03) scale(1.1255 1)" font-family="'Liberation Sans',sans-serif" font-weight="bold" font-size="20.34" fill="#000">50</text>
<text transform="translate(875.08 565.26) rotate(0.03) scale(1.1255 1)" font-family="'Liberation Sans',sans-serif" font-weight="bold" font-size="20.34" fill="#000">60</text>
<text transform="translate(875.08 537.17) rotate(0.03) scale(1.1255 1)" font-family="'Liberation Sans',sans-serif" font-weight="bold" font-size="20.34" fill="#000">70</text>
<text transform="translate(875.08 509.08) rotate(0.03) scale(1.1255 1)" font-family="'Liberation Sans',sans-serif" font-weight="bold" font-size="20.34" fill="#000">80</text>
<text transform="translate(875.08 480.99) rotate(0.03) scale(1.1255 1)" font-family="'Liberation Sans',sans-serif" font-weight="bold" font-size="20.34" fill="#000">90</text>
<text transform="translate(863.09 452.90) rotate(0.03) scale(1.1029 1)" font-family="'Liberation Sans',sans-serif" font-weight="bold" font-size="20.34" fill="#000">100</text>
<text transform="translate(845.98 693.67) rotate(-89.97) scale(1 1.0945)" font-family="'Liberation Sans',sans-serif" font-weight="bold" font-size="23.43" fill="#000">Number of cells [%]</text>
<path d="M1005.60 704.10 V544.50 H1096.30 V630.30" fill="none" stroke="#000" stroke-width="2.7" stroke-linejoin="miter"/>
<path d="M1211.40 561.00 V544.50 H1301.60 V620.60" fill="none" stroke="#000" stroke-width="2.7" stroke-linejoin="miter"/>
<path d="M1417.40 617.10 V544.50 H1507.80 V666.30" fill="none" stroke="#000" stroke-width="2.7" stroke-linejoin="miter"/>
<path d="M1623.10 656.50 V544.50 H1713.30 V614.60" fill="none" stroke="#000" stroke-width="2.7" stroke-linejoin="miter"/>
<text transform="translate(1014.14 537.25) rotate(0.03) scale(1.0000 1)" font-family="'DejaVu Sans','Liberation Sans',sans-serif" font-weight="normal" font-size="29.17" fill="#000" letter-spacing="4.27" stroke="#000" stroke-width="0.8" stroke-linejoin="round">****</text>
<text transform="translate(1229.86 537.25) rotate(0.03) scale(1.0000 1)" font-family="'DejaVu Sans','Liberation Sans',sans-serif" font-weight="normal" font-size="29.17" fill="#000" letter-spacing="4.27" stroke="#000" stroke-width="0.8" stroke-linejoin="round">***</text>
<text transform="translate(1445.49 537.25) rotate(0.03) scale(1.0000 1)" font-family="'DejaVu Sans','Liberation Sans',sans-serif" font-weight="normal" font-size="29.17" fill="#000" letter-spacing="4.27" stroke="#000" stroke-width="0.8" stroke-linejoin="round">**</text>
<text transform="translate(1651.09 537.25) rotate(0.03) scale(1.0000 1)" font-family="'DejaVu Sans','Liberation Sans',sans-serif" font-weight="normal" font-size="29.17" fill="#000" letter-spacing="4.27" stroke="#000" stroke-width="0.8" stroke-linejoin="round">**</text>
<text transform="translate(1010.11 766.80) rotate(0.03) scale(1.1113 1)" font-family="'Liberation Sans',sans-serif" font-weight="bold" font-size="21.51" fill="#000"><tspan>Sub-G</tspan><tspan dy="4.09" font-size="14.41" font-weight="normal">0</tspan></text>
<text transform="translate(1224.71 766.80) rotate(0.03) scale(1.1227 1)" font-family="'Liberation Sans',sans-serif" font-weight="bold" font-size="21.51" fill="#000"><tspan>G</tspan><tspan dy="4.09" font-size="14.41" font-weight="normal">0</tspan><tspan dy="-4.09">/G</tspan><tspan dy="4.09" font-size="14.41" font-weight="normal">1</tspan></text>
<text transform="translate(1455.43 766.80) rotate(0.03) scale(1.0785 1)" font-family="'Liberation Sans',sans-serif" font-weight="bold" font-size="21.51" fill="#000">S</text>
<text transform="translate(1641.91 766.80) rotate(0.03) scale(1.1204 1)" font-family="'Liberation Sans',sans-serif" font-weight="bold" font-size="21.51" fill="#000"><tspan>G</tspan><tspan dy="4.09" font-size="14.41" font-weight="normal">2</tspan><tspan dy="-4.09">/M</tspan></text>
<rect x="1824.3" y="567.35" width="39.0" height="15.0" fill="#646464" stroke="#000" stroke-width="3.5"/>
<rect x="1824.3" y="615.35" width="39.0" height="15.0" fill="#fc6595" stroke="#000" stroke-width="3.5"/>
<text transform="translate(1890.01 584.10) rotate(0.03) scale(1.1187 1)" font-family="'Liberation Sans',sans-serif" font-weight="normal" font-size="30.37" fill="#000">DMSO</text>
<text transform="translate(1890.16 632.30) rotate(0.03) scale(1.0605 1)" font-family="'Liberation Sans',sans-serif" font-weight="normal" font-size="30.38" fill="#000">4a</text>
<rect x="963.00" y="1050.90" width="79.20" height="4.40" fill="#646464" stroke="#000" stroke-width="3.0"/>
<path d="M1002.60 1047.60 V1050.60 M982.10 1047.60 h41 M982.10 1050.60 h41" fill="none" stroke="#000" stroke-width="2.8"/>
<rect x="1053.50" y="954.50" width="78.90" height="100.80" fill="#fc6595" stroke="#000" stroke-width="3.0"/>
<path d="M1092.95 945.40 V960.60 M1072.45 945.40 h41 M1072.45 960.60 h41" fill="none" stroke="#000" stroke-width="2.8"/>
<rect x="1169.20" y="900.20" width="79.60" height="155.10" fill="#646464" stroke="#000" stroke-width="3.0"/>
<rect x="1188.70" y="894.00" width="40.6" height="5.10" fill="#474747"/>
<path d="M1209.00 896.20 V901.50 M1188.50 901.50 h41" fill="none" stroke="#000" stroke-width="2.8"/>
<rect x="1260.10" y="995.40" width="78.90" height="59.90" fill="#fc6595" stroke="#000" stroke-width="3.0"/>
<path d="M1299.55 985.90 V1001.30 M1279.05 985.90 h41 M1279.05 1001.30 h41" fill="none" stroke="#000" stroke-width="2.8"/>
<rect x="1375.20" y="993.90" width="78.70" height="61.40" fill="#646464" stroke="#000" stroke-width="3.0"/>
<path d="M1414.55 990.10 V994.20 M1394.05 990.10 h41 M1394.05 994.20 h41" fill="none" stroke="#000" stroke-width="2.8"/>
<rect x="1465.90" y="1025.20" width="78.70" height="30.10" fill="#fc6595" stroke="#000" stroke-width="3.0"/>
<rect x="1484.95" y="1018.50" width="40.6" height="5.60" fill="#474747"/>
<path d="M1505.25 1020.70 V1026.20 M1484.75 1026.20 h41" fill="none" stroke="#000" stroke-width="2.8"/>
<rect x="1581.40" y="1014.30" width="79.30" height="41.00" fill="#646464" stroke="#000" stroke-width="3.0"/>
<path d="M1621.05 1009.60 V1015.40 M1600.55 1009.60 h41 M1600.55 1015.40 h41" fill="none" stroke="#000" stroke-width="2.8"/>
<rect x="1672.00" y="984.20" width="79.20" height="71.10" fill="#fc6595" stroke="#000" stroke-width="3.0"/>
<path d="M1711.60 978.80 V986.60 M1691.10 978.80 h41 M1691.10 986.60 h41" fill="none" stroke="#000" stroke-width="2.8"/>
<path d="M910.00 784.40 V1055.30 H1804.80" fill="none" stroke="#000" stroke-width="3.1" stroke-linejoin="miter"/>
<path d="M910.00 1055.30 h-9.6 M910.00 1028.36 h-9.6 M910.00 1001.42 h-9.6 M910.00 974.48 h-9.6 M910.00 947.54 h-9.6 M910.00 920.60 h-9.6 M910.00 893.66 h-9.6 M910.00 866.72 h-9.6 M910.00 839.78 h-9.6 M910.00 812.84 h-9.6 M910.00 785.90 h-9.6" fill="none" stroke="#000" stroke-width="2.9"/>
<path d="M1047.10 1055.30 v8.2 M1253.20 1055.30 v8.2 M1459.30 1055.30 v8.2 M1665.40 1055.30 v8.2" fill="none" stroke="#000" stroke-width="2.7"/>
<text transform="translate(884.90 1062.01) rotate(0.03) scale(1.1449 1)" font-family="'Liberation Sans',sans-serif" font-weight="bold" font-size="19.49" fill="#000">0</text>
<text transform="translate(871.88 1035.07) rotate(0.03) scale(1.1744 1)" font-family="'Liberation Sans',sans-serif" font-weight="bold" font-size="19.49" fill="#000">10</text>
<text transform="translate(871.88 1008.13) rotate(0.03) scale(1.1744 1)" font-family="'Liberation Sans',sans-serif" font-weight="bold" font-size="19.49" fill="#000">20</text>
<text transform="translate(871.88 981.16) rotate(0.03) scale(1.1768 1)" font-family="'Liberation Sans',sans-serif" font-weight="bold" font-size="19.45" fill="#000">30</text>
<text transform="translate(871.88 954.25) rotate(0.03) scale(1.1744 1)" font-family="'Liberation Sans',sans-serif" font-weight="bold" font-size="19.49" fill="#000">40</text>
<text transform="translate(871.88 927.31) rotate(0.03) scale(1.1744 1)" font-family="'Liberation Sans',sans-serif" font-weight="bold" font-size="19.49" fill="#000">50</text>
<text transform="translate(871.88 900.37) rotate(0.03) scale(1.1744 1)" font-family="'Liberation Sans',sans-serif" font-weight="bold" font-size="19.49" fill="#000">60</text>
<text transform="translate(871.88 873.43) rotate(0.03) scale(1.1744 1)" font-family="'Liberation Sans',sans-serif" font-weight="bold" font-size="19.49" fill="#000">70</text>
<text transform="translate(871.88 846.49) rotate(0.03) scale(1.1744 1)" font-family="'Liberation Sans',sans-serif" font-weight="bold" font-size="19.49" fill="#000">80</text>
<text transform="translate(871.88 819.55) rotate(0.03) scale(1.1744 1)" font-family="'Liberation Sans',sans-serif" font-weight="bold" font-size="19.49" fill="#000">90</text>
<text transform="translate(859.89 792.61) rotate(0.03) scale(1.1509 1)" font-family="'Liberation Sans',sans-serif" font-weight="bold" font-size="19.49" fill="#000">100</text>
<text transform="translate(842.08 1023.10) rotate(-89.97) scale(1 1.1405)" font-family="'Liberation Sans',sans-serif" font-weight="bold" font-size="22.48" fill="#000">Number of cells [%]</text>
<path d="M1002.90 1030.80 V864.40 H1093.00 V928.60" fill="none" stroke="#000" stroke-width="2.7" stroke-linejoin="miter"/>
<path d="M1208.40 880.10 V864.40 H1298.90 V969.80" fill="none" stroke="#000" stroke-width="2.7" stroke-linejoin="miter"/>
<path d="M1414.80 974.40 V864.40 H1505.10 V1003.60" fill="none" stroke="#000" stroke-width="2.7" stroke-linejoin="miter"/>
<path d="M1620.60 993.30 V864.40 H1711.10 V962.70" fill="none" stroke="#000" stroke-width="2.7" stroke-linejoin="miter"/>
<text transform="translate(1011.24 858.05) rotate(0.03) scale(1.0000 1)" font-family="'DejaVu Sans','Liberation Sans',sans-serif" font-weight="normal" font-size="29.17" fill="#000" letter-spacing="4.27" stroke="#000" stroke-width="0.8" stroke-linejoin="round">****</text>
<text transform="translate(1217.34 858.05) rotate(0.03) scale(1.0000 1)" font-family="'DejaVu Sans','Liberation Sans',sans-serif" font-weight="normal" font-size="29.17" fill="#000" letter-spacing="4.27" stroke="#000" stroke-width="0.8" stroke-linejoin="round">****</text>
<text transform="translate(1433.36 858.05) rotate(0.03) scale(1.0000 1)" font-family="'DejaVu Sans','Liberation Sans',sans-serif" font-weight="normal" font-size="29.17" fill="#000" letter-spacing="4.27" stroke="#000" stroke-width="0.8" stroke-linejoin="round">***</text>
<text transform="translate(1648.69 858.05) rotate(0.03) scale(1.0000 1)" font-family="'DejaVu Sans','Liberation Sans',sans-serif" font-weight="normal" font-size="29.17" fill="#000" letter-spacing="4.27" stroke="#000" stroke-width="0.8" stroke-linejoin="round">**</text>
<text transform="translate(1006.81 1093.90) rotate(0.03) scale(1.1665 1)" font-family="'Liberation Sans',sans-serif" font-weight="bold" font-size="20.49" fill="#000"><tspan>Sub-G</tspan><tspan dy="3.89" font-size="13.73" font-weight="normal">0</tspan></text>
<text transform="translate(1221.41 1093.90) rotate(0.03) scale(1.1785 1)" font-family="'Liberation Sans',sans-serif" font-weight="bold" font-size="20.49" fill="#000"><tspan>G</tspan><tspan dy="3.89" font-size="13.73" font-weight="normal">0</tspan><tspan dy="-3.89">/G</tspan><tspan dy="3.89" font-size="13.73" font-weight="normal">1</tspan></text>
<text transform="translate(1452.13 1093.90) rotate(0.03) scale(1.1321 1)" font-family="'Liberation Sans',sans-serif" font-weight="bold" font-size="20.49" fill="#000">S</text>
<text transform="translate(1638.61 1093.90) rotate(0.03) scale(1.1760 1)" font-family="'Liberation Sans',sans-serif" font-weight="bold" font-size="20.49" fill="#000"><tspan>G</tspan><tspan dy="3.89" font-size="13.73" font-weight="normal">2</tspan><tspan dy="-3.89">/M</tspan></text>
<rect x="1824.3" y="883.35" width="39.0" height="15.0" fill="#646464" stroke="#000" stroke-width="3.5"/>
<rect x="1824.3" y="931.35" width="39.0" height="15.0" fill="#fc6595" stroke="#000" stroke-width="3.5"/>
<text transform="translate(1890.01 900.10) rotate(0.03) scale(1.1187 1)" font-family="'Liberation Sans',sans-serif" font-weight="normal" font-size="30.37" fill="#000">DMSO</text>
<text transform="translate(1890.16 948.30) rotate(0.03) scale(1.0605 1)" font-family="'Liberation Sans',sans-serif" font-weight="normal" font-size="30.38" fill="#000">4a</text>
</g>
</svg>
</body>
</html>
